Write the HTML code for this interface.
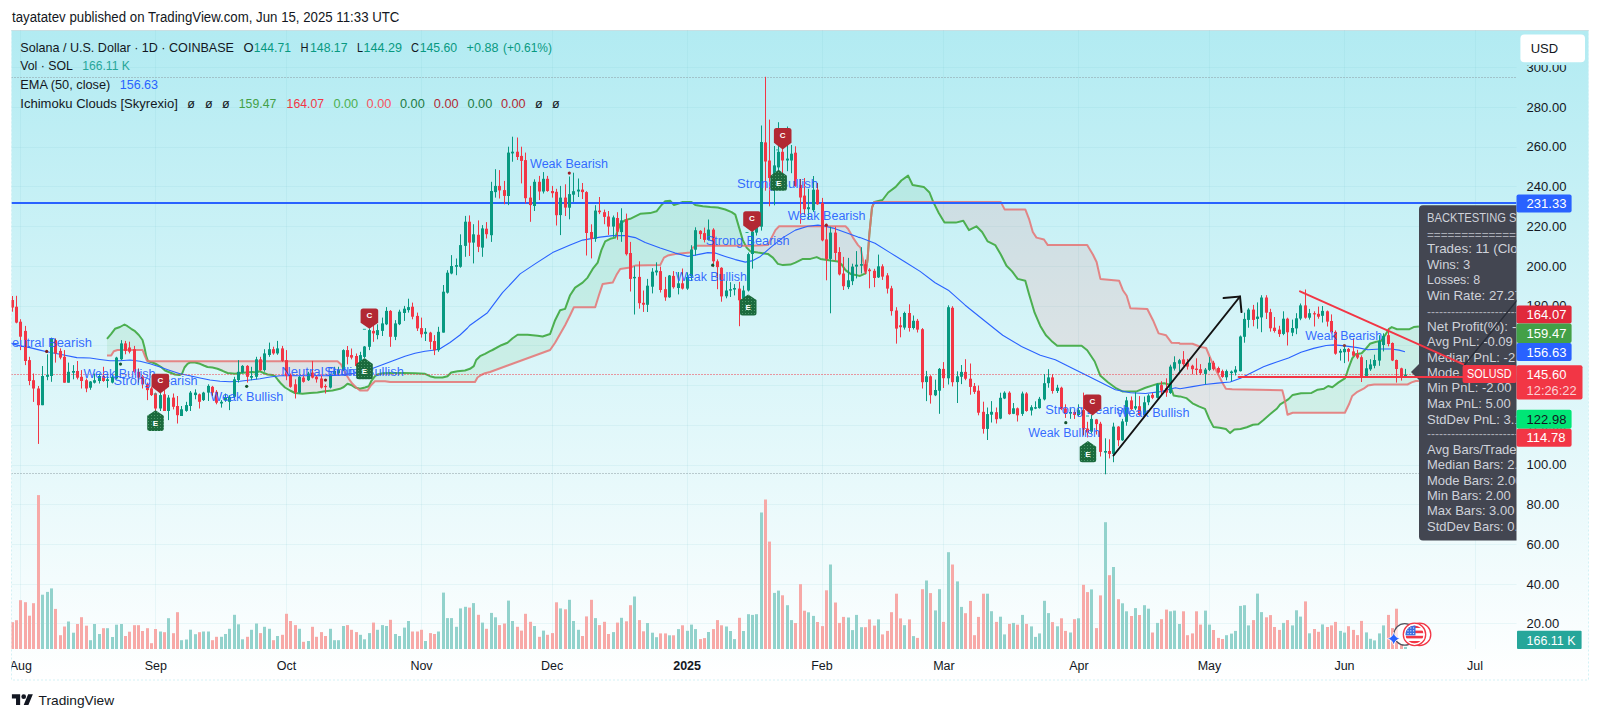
<!DOCTYPE html>
<html><head><meta charset="utf-8"><title>SOLUSD chart</title>
<style>html,body{margin:0;padding:0;background:#fff;}body{width:1600px;height:719px;overflow:hidden;font-family:"Liberation Sans",sans-serif;}svg{display:block;}</style></head>
<body>
<svg width="1600" height="719" viewBox="0 0 1600 719" font-family="Liberation Sans, sans-serif">
<defs>
<linearGradient id="bg" gradientUnits="userSpaceOnUse" x1="0" y1="30" x2="0" y2="680"><stop offset="0" stop-color="#b2ebf2"/><stop offset="1" stop-color="#ffffff"/></linearGradient>
<clipPath id="pane"><rect x="11.5" y="30" width="1505" height="619"/></clipPath>
<clipPath id="chart"><rect x="11.5" y="30" width="1577" height="650"/></clipPath>
<clipPath id="boxclip"><rect x="1410" y="200" width="106.5" height="345"/></clipPath>

<clipPath id="belowG"><polygon points="107.0,338.8 111.2,333.8 115.0,328.8 120.0,327.0 124.5,324.5 127.5,326.2 131.2,328.8 135.0,331.2 138.8,335.0 142.5,340.0 144.5,347.5 146.2,356.2 148.0,361.2 152.5,362.5 157.0,364.5 161.2,367.0 165.0,370.5 170.0,372.5 175.0,374.5 179.5,375.0 182.0,373.8 184.5,367.5 187.5,363.8 190.0,362.5 195.0,362.5 200.0,363.8 203.8,365.5 207.5,367.0 212.5,367.5 217.5,368.8 222.5,370.8 227.5,373.0 235.0,373.8 240.0,373.0 246.2,372.5 252.5,372.0 256.2,372.5 259.5,371.2 262.5,372.5 267.5,374.5 272.5,375.0 275.0,376.2 278.0,380.0 281.2,383.8 285.0,387.5 290.0,390.5 295.0,393.0 302.5,393.8 310.0,393.0 317.5,392.5 325.0,391.2 332.5,390.5 340.0,388.8 343.8,387.0 347.5,383.8 351.2,385.0 355.0,387.5 360.0,388.8 365.0,387.5 368.8,386.2 371.2,381.2 375.0,376.2 377.5,374.5 382.5,373.2 390.0,373.0 402.5,373.0 415.0,373.2 425.0,373.8 430.0,376.2 435.0,377.5 442.5,377.5 447.5,376.2 451.2,372.5 457.5,371.2 465.0,370.5 470.0,368.8 473.8,366.2 476.2,360.0 480.0,356.2 485.0,353.8 490.0,351.2 492.5,350.0 501.3,345.2 507.5,342.7 512.6,338.2 517.6,334.7 527.6,334.7 537.6,335.7 542.6,336.5 550.1,334.0 555.1,320.2 560.1,310.2 565.1,308.9 570.1,295.2 575.1,287.6 582.6,282.6 587.6,277.6 592.7,268.9 597.7,262.6 601.4,250.1 605.2,241.3 610.2,238.8 615.2,237.6 620.2,223.8 625.2,220.1 630.2,218.8 635.2,216.3 640.2,213.8 650.2,213.1 656.5,211.3 661.5,205.0 665.2,201.3 670.3,200.8 674.0,205.0 677.8,203.8 682.8,202.0 691.5,202.0 695.3,205.0 702.8,206.3 710.3,207.0 717.8,207.5 725.3,209.5 731.6,212.1 735.3,214.6 739.1,227.6 742.8,240.1 746.6,247.6 750.4,251.4 757.9,252.6 767.9,253.9 772.9,257.6 777.9,263.9 782.9,265.1 790.4,264.6 795.4,262.6 802.9,258.9 810.4,258.9 816.7,257.1 820.4,258.9 830.5,260.6 838.0,261.4 841.7,264.6 845.5,270.1 850.5,273.9 858.0,275.6 860.0,275.9 865.6,273.3 867.5,260.1 869.4,233.8 872.0,207.6 874.3,201.9 882.5,200.0 888.2,192.5 895.7,186.9 901.3,180.5 908.1,175.6 912.6,185.0 923.8,186.9 929.5,192.5 933.2,201.9 938.9,213.2 944.5,222.6 955.8,222.6 963.3,220.7 968.9,230.1 976.4,226.3 982.1,232.0 987.7,241.4 995.2,245.1 1000.8,254.5 1006.5,265.8 1012.1,271.4 1017.7,278.9 1025.3,280.8 1029.0,293.9 1034.6,312.7 1040.3,325.9 1045.9,335.3 1051.5,340.9 1057.2,345.8 1081.6,345.8 1087.2,350.3 1094.7,361.5 1100.4,375.8 1107.9,382.2 1115.4,387.8 1122.9,391.6 1136.1,391.6 1145.4,387.8 1156.7,384.1 1164.2,383.3 1169.9,384.8 1173.6,395.4 1179.2,396.5 1180.0,396.4 1186.3,398.1 1192.5,403.3 1198.8,406.4 1205.0,408.9 1209.2,418.9 1213.4,426.9 1219.6,427.7 1225.9,429.0 1230.1,433.1 1234.3,429.4 1240.5,429.0 1246.8,427.3 1253.0,424.8 1258.3,424.2 1263.5,420.0 1271.8,412.7 1277.0,408.5 1280.2,404.3 1284.3,401.8 1288.5,399.1 1292.7,394.9 1301.0,393.3 1311.5,392.9 1317.7,389.7 1324.0,388.7 1328.2,386.0 1332.3,387.2 1338.6,382.4 1344.9,378.3 1346.9,373.0 1349.0,366.8 1352.2,358.4 1355.3,354.3 1361.6,353.2 1365.7,349.0 1369.9,343.8 1376.2,341.7 1381.4,340.7 1385.6,334.4 1388.7,329.2 1391.8,327.1 1397.0,329.2 1409.5,329.2 1413.7,327.1 1418.9,326.5 1418.9,700 107.0,700"/></clipPath>
<clipPath id="belowR"><polygon points="107.0,355.5 111.2,355.5 113.8,351.2 117.5,350.0 142.5,350.0 144.5,355.0 147.0,360.8 150.0,361.2 337.5,361.2 341.2,364.5 345.0,372.5 348.8,378.8 352.5,383.8 356.2,387.5 360.0,390.5 367.5,390.5 371.2,385.0 375.0,381.2 385.0,381.2 390.0,382.0 475.0,382.0 477.5,377.5 481.2,375.0 485.0,373.2 490.0,372.0 550.1,350.0 555.1,342.7 560.1,334.0 565.1,325.2 570.1,315.2 573.9,307.2 595.2,307.2 598.9,295.2 602.7,283.9 612.7,282.6 616.4,275.1 620.2,268.9 630.2,267.6 635.2,265.6 660.2,265.1 664.0,257.6 667.7,255.6 675.3,253.9 690.3,252.6 692.8,247.6 696.5,245.8 750.4,245.8 767.9,245.1 771.6,237.6 775.4,230.1 779.1,226.3 845.5,226.3 848.0,228.8 853.0,237.6 858.0,245.1 860.5,247.6 865.6,273.3 867.5,260.1 869.4,233.8 872.0,207.6 874.3,201.9 1000.8,201.9 1004.6,209.4 1025.3,209.4 1029.0,218.8 1032.8,232.0 1036.5,237.6 1044.0,239.5 1047.8,245.1 1087.2,245.1 1092.9,254.5 1096.6,262.0 1100.4,278.9 1119.2,280.8 1122.9,290.2 1126.7,295.8 1130.4,308.2 1147.3,309.0 1153.0,320.2 1158.6,333.4 1166.1,335.3 1171.7,342.8 1179.2,343.1 1180.0,343.8 1192.5,343.8 1200.9,347.0 1206.1,348.0 1211.3,360.5 1216.5,371.0 1221.7,381.4 1225.9,388.7 1232.2,389.3 1282.3,390.2 1284.3,398.1 1287.5,414.8 1292.7,412.7 1344.9,412.7 1349.0,404.3 1352.2,396.0 1357.4,391.8 1363.6,388.7 1367.8,385.6 1374.1,384.5 1407.5,384.5 1411.6,382.4 1415.8,381.0 1418.9,381.0 1418.9,700 107.0,700"/></clipPath>
<pattern id="etex" patternUnits="userSpaceOnUse" width="3" height="3"><rect width="3" height="3" fill="#1b6a3d"/><rect x="1" y="1" width="1" height="1" fill="#4c9a6c"/></pattern>
</defs>
<rect width="1600" height="719" fill="#fff"/>
<rect x="11.5" y="30" width="1577.0" height="650" fill="url(#bg)"/>
<rect x="11.5" y="30.5" width="1577.0" height="649.5" fill="none" stroke="#d3f1f5" stroke-width="1" stroke-dasharray="2 2"/>
<line x1="11.5" y1="30.5" x2="1588.5" y2="30.5" stroke="#c9dfe3" stroke-width="1"/>
<g stroke="#6fbfc8" stroke-opacity="0.11" stroke-width="1">
<line x1="20.5" y1="30" x2="20.5" y2="649"/>
<line x1="155.5" y1="30" x2="155.5" y2="649"/>
<line x1="286.5" y1="30" x2="286.5" y2="649"/>
<line x1="421.5" y1="30" x2="421.5" y2="649"/>
<line x1="552.5" y1="30" x2="552.5" y2="649"/>
<line x1="687.5" y1="30" x2="687.5" y2="649"/>
<line x1="822.5" y1="30" x2="822.5" y2="649"/>
<line x1="943.5" y1="30" x2="943.5" y2="649"/>
<line x1="1078.5" y1="30" x2="1078.5" y2="649"/>
<line x1="1209.5" y1="30" x2="1209.5" y2="649"/>
<line x1="1344.5" y1="30" x2="1344.5" y2="649"/>
<line x1="1475.5" y1="30" x2="1475.5" y2="649"/>
<line x1="11.5" y1="623.5" x2="1516.5" y2="623.5"/>
<line x1="11.5" y1="584.5" x2="1516.5" y2="584.5"/>
<line x1="11.5" y1="544.5" x2="1516.5" y2="544.5"/>
<line x1="11.5" y1="504.5" x2="1516.5" y2="504.5"/>
<line x1="11.5" y1="465.5" x2="1516.5" y2="465.5"/>
<line x1="11.5" y1="425.5" x2="1516.5" y2="425.5"/>
<line x1="11.5" y1="385.5" x2="1516.5" y2="385.5"/>
<line x1="11.5" y1="345.5" x2="1516.5" y2="345.5"/>
<line x1="11.5" y1="306.5" x2="1516.5" y2="306.5"/>
<line x1="11.5" y1="266.5" x2="1516.5" y2="266.5"/>
<line x1="11.5" y1="226.5" x2="1516.5" y2="226.5"/>
<line x1="11.5" y1="186.5" x2="1516.5" y2="186.5"/>
<line x1="11.5" y1="147.5" x2="1516.5" y2="147.5"/>
<line x1="11.5" y1="107.5" x2="1516.5" y2="107.5"/>
<line x1="11.5" y1="67.5" x2="1516.5" y2="67.5"/>
</g>
<g clip-path="url(#pane)">
<rect x="11" y="622.2" width="3" height="26.8" fill="#f7a9a7"/>
<rect x="15" y="620.2" width="3" height="28.8" fill="#f7a9a7"/>
<rect x="19" y="600.2" width="3" height="48.8" fill="#f7a9a7"/>
<rect x="24" y="602.2" width="3" height="46.8" fill="#f7a9a7"/>
<rect x="28" y="615.7" width="3" height="33.3" fill="#f7a9a7"/>
<rect x="32" y="603.2" width="3" height="45.8" fill="#f7a9a7"/>
<rect x="37" y="495.1" width="3" height="153.9" fill="#f7a9a7"/>
<rect x="41" y="594.7" width="3" height="54.3" fill="#92d2cc"/>
<rect x="46" y="591.9" width="3" height="57.1" fill="#92d2cc"/>
<rect x="50" y="588.4" width="3" height="60.6" fill="#92d2cc"/>
<rect x="54" y="608.9" width="3" height="40.1" fill="#f7a9a7"/>
<rect x="59" y="635.2" width="3" height="13.8" fill="#f7a9a7"/>
<rect x="63" y="626.5" width="3" height="22.5" fill="#f7a9a7"/>
<rect x="67" y="621.5" width="3" height="27.5" fill="#92d2cc"/>
<rect x="72" y="632.7" width="3" height="16.3" fill="#92d2cc"/>
<rect x="76" y="624.0" width="3" height="25.0" fill="#f7a9a7"/>
<rect x="80" y="617.2" width="3" height="31.8" fill="#f7a9a7"/>
<rect x="85" y="625.7" width="3" height="23.3" fill="#f7a9a7"/>
<rect x="89" y="640.2" width="3" height="8.8" fill="#92d2cc"/>
<rect x="93" y="624.0" width="3" height="25.0" fill="#92d2cc"/>
<rect x="98" y="634.0" width="3" height="15.0" fill="#92d2cc"/>
<rect x="102" y="628.2" width="3" height="20.8" fill="#f7a9a7"/>
<rect x="106" y="628.2" width="3" height="20.8" fill="#92d2cc"/>
<rect x="111" y="637.0" width="3" height="12.0" fill="#92d2cc"/>
<rect x="115" y="624.7" width="3" height="24.3" fill="#92d2cc"/>
<rect x="120" y="624.0" width="3" height="25.0" fill="#92d2cc"/>
<rect x="124" y="636.0" width="3" height="13.0" fill="#f7a9a7"/>
<rect x="128" y="631.7" width="3" height="17.3" fill="#f7a9a7"/>
<rect x="133" y="625.2" width="3" height="23.8" fill="#f7a9a7"/>
<rect x="137" y="625.2" width="3" height="23.8" fill="#f7a9a7"/>
<rect x="141" y="631.0" width="3" height="18.0" fill="#f7a9a7"/>
<rect x="146" y="628.2" width="3" height="20.8" fill="#f7a9a7"/>
<rect x="150" y="643.2" width="3" height="5.8" fill="#f7a9a7"/>
<rect x="154" y="629.0" width="3" height="20.0" fill="#f7a9a7"/>
<rect x="159" y="631.5" width="3" height="17.5" fill="#92d2cc"/>
<rect x="163" y="632.2" width="3" height="16.8" fill="#f7a9a7"/>
<rect x="167" y="618.2" width="3" height="30.8" fill="#92d2cc"/>
<rect x="172" y="633.2" width="3" height="15.8" fill="#f7a9a7"/>
<rect x="176" y="612.2" width="3" height="36.8" fill="#f7a9a7"/>
<rect x="180" y="640.2" width="3" height="8.8" fill="#92d2cc"/>
<rect x="185" y="639.5" width="3" height="9.5" fill="#92d2cc"/>
<rect x="189" y="629.7" width="3" height="19.3" fill="#92d2cc"/>
<rect x="194" y="634.2" width="3" height="14.8" fill="#92d2cc"/>
<rect x="198" y="632.2" width="3" height="16.8" fill="#f7a9a7"/>
<rect x="202" y="631.5" width="3" height="17.5" fill="#92d2cc"/>
<rect x="207" y="631.5" width="3" height="17.5" fill="#92d2cc"/>
<rect x="211" y="640.2" width="3" height="8.8" fill="#f7a9a7"/>
<rect x="215" y="636.8" width="3" height="12.2" fill="#f7a9a7"/>
<rect x="220" y="636.8" width="3" height="12.2" fill="#92d2cc"/>
<rect x="224" y="634.0" width="3" height="15.0" fill="#92d2cc"/>
<rect x="228" y="628.8" width="3" height="20.2" fill="#92d2cc"/>
<rect x="233" y="614.8" width="3" height="34.2" fill="#92d2cc"/>
<rect x="237" y="624.3" width="3" height="24.7" fill="#92d2cc"/>
<rect x="241" y="639.3" width="3" height="9.7" fill="#92d2cc"/>
<rect x="246" y="636.8" width="3" height="12.2" fill="#f7a9a7"/>
<rect x="250" y="629.8" width="3" height="19.2" fill="#92d2cc"/>
<rect x="255" y="623.5" width="3" height="25.5" fill="#92d2cc"/>
<rect x="259" y="633.1" width="3" height="15.9" fill="#f7a9a7"/>
<rect x="263" y="626.8" width="3" height="22.2" fill="#92d2cc"/>
<rect x="268" y="628.8" width="3" height="20.2" fill="#92d2cc"/>
<rect x="272" y="640.2" width="3" height="8.8" fill="#f7a9a7"/>
<rect x="276" y="636.0" width="3" height="13.0" fill="#92d2cc"/>
<rect x="281" y="634.8" width="3" height="14.2" fill="#f7a9a7"/>
<rect x="285" y="613.8" width="3" height="35.2" fill="#f7a9a7"/>
<rect x="289" y="621.0" width="3" height="28.0" fill="#f7a9a7"/>
<rect x="294" y="625.1" width="3" height="23.9" fill="#f7a9a7"/>
<rect x="298" y="628.8" width="3" height="20.2" fill="#92d2cc"/>
<rect x="302" y="641.8" width="3" height="7.2" fill="#f7a9a7"/>
<rect x="307" y="641.0" width="3" height="8.0" fill="#92d2cc"/>
<rect x="311" y="626.8" width="3" height="22.2" fill="#f7a9a7"/>
<rect x="315" y="636.8" width="3" height="12.2" fill="#f7a9a7"/>
<rect x="320" y="632.1" width="3" height="16.9" fill="#f7a9a7"/>
<rect x="324" y="636.0" width="3" height="13.0" fill="#f7a9a7"/>
<rect x="329" y="628.8" width="3" height="20.2" fill="#92d2cc"/>
<rect x="333" y="640.2" width="3" height="8.8" fill="#92d2cc"/>
<rect x="337" y="640.2" width="3" height="8.8" fill="#92d2cc"/>
<rect x="342" y="626.0" width="3" height="23.0" fill="#92d2cc"/>
<rect x="346" y="625.1" width="3" height="23.9" fill="#f7a9a7"/>
<rect x="350" y="629.8" width="3" height="19.2" fill="#f7a9a7"/>
<rect x="355" y="632.1" width="3" height="16.9" fill="#f7a9a7"/>
<rect x="359" y="634.8" width="3" height="14.2" fill="#92d2cc"/>
<rect x="363" y="639.3" width="3" height="9.7" fill="#92d2cc"/>
<rect x="368" y="633.1" width="3" height="15.9" fill="#92d2cc"/>
<rect x="372" y="622.6" width="3" height="26.4" fill="#f7a9a7"/>
<rect x="376" y="629.8" width="3" height="19.2" fill="#92d2cc"/>
<rect x="381" y="625.1" width="3" height="23.9" fill="#92d2cc"/>
<rect x="385" y="626.0" width="3" height="23.0" fill="#92d2cc"/>
<rect x="389" y="619.8" width="3" height="29.2" fill="#f7a9a7"/>
<rect x="394" y="634.0" width="3" height="15.0" fill="#92d2cc"/>
<rect x="398" y="636.0" width="3" height="13.0" fill="#92d2cc"/>
<rect x="403" y="627.6" width="3" height="21.4" fill="#92d2cc"/>
<rect x="407" y="621.0" width="3" height="28.0" fill="#92d2cc"/>
<rect x="411" y="631.5" width="3" height="17.5" fill="#f7a9a7"/>
<rect x="416" y="631.5" width="3" height="17.5" fill="#f7a9a7"/>
<rect x="420" y="629.8" width="3" height="19.2" fill="#f7a9a7"/>
<rect x="424" y="641.0" width="3" height="8.0" fill="#92d2cc"/>
<rect x="429" y="633.1" width="3" height="15.9" fill="#f7a9a7"/>
<rect x="433" y="634.0" width="3" height="15.0" fill="#f7a9a7"/>
<rect x="437" y="631.5" width="3" height="17.5" fill="#92d2cc"/>
<rect x="442" y="592.6" width="3" height="56.4" fill="#92d2cc"/>
<rect x="446" y="618.1" width="3" height="30.9" fill="#92d2cc"/>
<rect x="450" y="618.1" width="3" height="30.9" fill="#92d2cc"/>
<rect x="455" y="626.8" width="3" height="22.2" fill="#92d2cc"/>
<rect x="459" y="608.4" width="3" height="40.6" fill="#92d2cc"/>
<rect x="464" y="606.8" width="3" height="42.2" fill="#92d2cc"/>
<rect x="468" y="607.6" width="3" height="41.4" fill="#f7a9a7"/>
<rect x="472" y="603.1" width="3" height="45.9" fill="#92d2cc"/>
<rect x="477" y="614.8" width="3" height="34.2" fill="#f7a9a7"/>
<rect x="481" y="622.6" width="3" height="26.4" fill="#92d2cc"/>
<rect x="485" y="628.8" width="3" height="20.2" fill="#f7a9a7"/>
<rect x="490" y="612.9" width="3" height="36.1" fill="#92d2cc"/>
<rect x="494" y="617.3" width="3" height="31.7" fill="#92d2cc"/>
<rect x="498" y="625.1" width="3" height="23.9" fill="#f7a9a7"/>
<rect x="503" y="623.5" width="3" height="25.5" fill="#f7a9a7"/>
<rect x="507" y="600.6" width="3" height="48.4" fill="#92d2cc"/>
<rect x="511" y="621.0" width="3" height="28.0" fill="#92d2cc"/>
<rect x="516" y="626.8" width="3" height="22.2" fill="#f7a9a7"/>
<rect x="520" y="630.6" width="3" height="18.4" fill="#f7a9a7"/>
<rect x="524" y="613.8" width="3" height="35.2" fill="#f7a9a7"/>
<rect x="529" y="621.8" width="3" height="27.2" fill="#f7a9a7"/>
<rect x="533" y="626.0" width="3" height="23.0" fill="#92d2cc"/>
<rect x="538" y="636.8" width="3" height="12.2" fill="#f7a9a7"/>
<rect x="542" y="630.6" width="3" height="18.4" fill="#92d2cc"/>
<rect x="546" y="634.8" width="3" height="14.2" fill="#f7a9a7"/>
<rect x="551" y="633.1" width="3" height="15.9" fill="#f7a9a7"/>
<rect x="555" y="602.3" width="3" height="46.7" fill="#f7a9a7"/>
<rect x="559" y="608.4" width="3" height="40.6" fill="#92d2cc"/>
<rect x="564" y="609.3" width="3" height="39.7" fill="#f7a9a7"/>
<rect x="568" y="599.8" width="3" height="49.2" fill="#92d2cc"/>
<rect x="572" y="621.0" width="3" height="28.0" fill="#92d2cc"/>
<rect x="577" y="629.8" width="3" height="19.2" fill="#92d2cc"/>
<rect x="581" y="636.0" width="3" height="13.0" fill="#f7a9a7"/>
<rect x="585" y="616.4" width="3" height="32.6" fill="#f7a9a7"/>
<rect x="590" y="599.8" width="3" height="49.2" fill="#f7a9a7"/>
<rect x="594" y="618.1" width="3" height="30.9" fill="#92d2cc"/>
<rect x="598" y="625.1" width="3" height="23.9" fill="#f7a9a7"/>
<rect x="603" y="621.8" width="3" height="27.2" fill="#f7a9a7"/>
<rect x="607" y="634.0" width="3" height="15.0" fill="#f7a9a7"/>
<rect x="612" y="632.1" width="3" height="16.9" fill="#92d2cc"/>
<rect x="616" y="622.6" width="3" height="26.4" fill="#f7a9a7"/>
<rect x="620" y="617.8" width="3" height="31.2" fill="#92d2cc"/>
<rect x="625" y="621.3" width="3" height="27.7" fill="#f7a9a7"/>
<rect x="629" y="605.2" width="3" height="43.8" fill="#f7a9a7"/>
<rect x="633" y="596.5" width="3" height="52.5" fill="#92d2cc"/>
<rect x="638" y="620.1" width="3" height="28.9" fill="#f7a9a7"/>
<rect x="642" y="631.3" width="3" height="17.7" fill="#f7a9a7"/>
<rect x="646" y="623.0" width="3" height="26.0" fill="#92d2cc"/>
<rect x="651" y="632.7" width="3" height="16.3" fill="#92d2cc"/>
<rect x="655" y="637.2" width="3" height="11.8" fill="#92d2cc"/>
<rect x="659" y="633.4" width="3" height="15.6" fill="#f7a9a7"/>
<rect x="664" y="633.4" width="3" height="15.6" fill="#f7a9a7"/>
<rect x="668" y="635.3" width="3" height="13.7" fill="#92d2cc"/>
<rect x="672" y="635.3" width="3" height="13.7" fill="#f7a9a7"/>
<rect x="677" y="629.1" width="3" height="19.9" fill="#92d2cc"/>
<rect x="681" y="625.3" width="3" height="23.7" fill="#f7a9a7"/>
<rect x="686" y="630.8" width="3" height="18.2" fill="#92d2cc"/>
<rect x="690" y="624.6" width="3" height="24.4" fill="#92d2cc"/>
<rect x="694" y="629.1" width="3" height="19.9" fill="#92d2cc"/>
<rect x="699" y="639.1" width="3" height="9.9" fill="#f7a9a7"/>
<rect x="703" y="638.1" width="3" height="10.9" fill="#f7a9a7"/>
<rect x="707" y="632.0" width="3" height="17.0" fill="#92d2cc"/>
<rect x="712" y="629.1" width="3" height="19.9" fill="#f7a9a7"/>
<rect x="716" y="620.1" width="3" height="28.9" fill="#f7a9a7"/>
<rect x="720" y="625.3" width="3" height="23.7" fill="#f7a9a7"/>
<rect x="725" y="626.5" width="3" height="22.5" fill="#92d2cc"/>
<rect x="729" y="631.0" width="3" height="18.0" fill="#92d2cc"/>
<rect x="733" y="639.1" width="3" height="9.9" fill="#92d2cc"/>
<rect x="738" y="617.8" width="3" height="31.2" fill="#f7a9a7"/>
<rect x="742" y="631.0" width="3" height="18.0" fill="#92d2cc"/>
<rect x="747" y="614.2" width="3" height="34.8" fill="#92d2cc"/>
<rect x="751" y="614.9" width="3" height="34.1" fill="#92d2cc"/>
<rect x="755" y="614.2" width="3" height="34.8" fill="#92d2cc"/>
<rect x="760" y="512.5" width="3" height="136.5" fill="#92d2cc"/>
<rect x="764" y="499.5" width="3" height="149.5" fill="#f7a9a7"/>
<rect x="768" y="541.6" width="3" height="107.4" fill="#f7a9a7"/>
<rect x="773" y="592.9" width="3" height="56.1" fill="#92d2cc"/>
<rect x="777" y="590.6" width="3" height="58.4" fill="#92d2cc"/>
<rect x="781" y="595.3" width="3" height="53.7" fill="#f7a9a7"/>
<rect x="786" y="605.2" width="3" height="43.8" fill="#92d2cc"/>
<rect x="790" y="620.1" width="3" height="28.9" fill="#92d2cc"/>
<rect x="794" y="623.0" width="3" height="26.0" fill="#f7a9a7"/>
<rect x="799" y="584.2" width="3" height="64.8" fill="#f7a9a7"/>
<rect x="803" y="610.7" width="3" height="38.3" fill="#f7a9a7"/>
<rect x="807" y="612.3" width="3" height="36.7" fill="#92d2cc"/>
<rect x="812" y="615.9" width="3" height="33.1" fill="#92d2cc"/>
<rect x="816" y="622.0" width="3" height="27.0" fill="#f7a9a7"/>
<rect x="821" y="626.1" width="3" height="22.9" fill="#f7a9a7"/>
<rect x="825" y="590.3" width="3" height="58.7" fill="#f7a9a7"/>
<rect x="829" y="564.5" width="3" height="84.5" fill="#92d2cc"/>
<rect x="834" y="602.5" width="3" height="46.5" fill="#f7a9a7"/>
<rect x="838" y="622.9" width="3" height="26.1" fill="#f7a9a7"/>
<rect x="842" y="616.9" width="3" height="32.1" fill="#f7a9a7"/>
<rect x="847" y="617.5" width="3" height="31.5" fill="#92d2cc"/>
<rect x="851" y="630.1" width="3" height="18.9" fill="#92d2cc"/>
<rect x="855" y="614.9" width="3" height="34.1" fill="#92d2cc"/>
<rect x="860" y="627.2" width="3" height="21.8" fill="#92d2cc"/>
<rect x="864" y="627.2" width="3" height="21.8" fill="#f7a9a7"/>
<rect x="868" y="619.4" width="3" height="29.6" fill="#f7a9a7"/>
<rect x="873" y="625.6" width="3" height="23.4" fill="#f7a9a7"/>
<rect x="877" y="619.4" width="3" height="29.6" fill="#92d2cc"/>
<rect x="881" y="634.4" width="3" height="14.6" fill="#f7a9a7"/>
<rect x="886" y="630.9" width="3" height="18.1" fill="#f7a9a7"/>
<rect x="890" y="612.2" width="3" height="36.8" fill="#f7a9a7"/>
<rect x="895" y="593.7" width="3" height="55.3" fill="#f7a9a7"/>
<rect x="899" y="618.4" width="3" height="30.6" fill="#f7a9a7"/>
<rect x="903" y="625.2" width="3" height="23.8" fill="#92d2cc"/>
<rect x="908" y="619.4" width="3" height="29.6" fill="#f7a9a7"/>
<rect x="912" y="636.1" width="3" height="12.9" fill="#92d2cc"/>
<rect x="916" y="637.9" width="3" height="11.1" fill="#f7a9a7"/>
<rect x="921" y="589.2" width="3" height="59.8" fill="#f7a9a7"/>
<rect x="925" y="580.5" width="3" height="68.5" fill="#92d2cc"/>
<rect x="929" y="593.1" width="3" height="55.9" fill="#f7a9a7"/>
<rect x="934" y="610.4" width="3" height="38.6" fill="#92d2cc"/>
<rect x="938" y="589.2" width="3" height="59.8" fill="#92d2cc"/>
<rect x="942" y="621.9" width="3" height="27.1" fill="#f7a9a7"/>
<rect x="947" y="552.2" width="3" height="96.8" fill="#92d2cc"/>
<rect x="951" y="564.5" width="3" height="84.5" fill="#f7a9a7"/>
<rect x="956" y="581.4" width="3" height="67.6" fill="#92d2cc"/>
<rect x="960" y="606.9" width="3" height="42.1" fill="#92d2cc"/>
<rect x="964" y="613.2" width="3" height="35.8" fill="#f7a9a7"/>
<rect x="969" y="600.9" width="3" height="48.1" fill="#f7a9a7"/>
<rect x="973" y="635.2" width="3" height="13.8" fill="#f7a9a7"/>
<rect x="977" y="616.9" width="3" height="32.1" fill="#f7a9a7"/>
<rect x="982" y="593.7" width="3" height="55.3" fill="#f7a9a7"/>
<rect x="986" y="593.7" width="3" height="55.3" fill="#92d2cc"/>
<rect x="990" y="611.2" width="3" height="37.8" fill="#92d2cc"/>
<rect x="995" y="621.9" width="3" height="27.1" fill="#f7a9a7"/>
<rect x="999" y="616.7" width="3" height="32.3" fill="#92d2cc"/>
<rect x="1003" y="634.4" width="3" height="14.6" fill="#92d2cc"/>
<rect x="1008" y="623.9" width="3" height="25.1" fill="#f7a9a7"/>
<rect x="1012" y="622.9" width="3" height="26.1" fill="#92d2cc"/>
<rect x="1016" y="624.7" width="3" height="24.3" fill="#f7a9a7"/>
<rect x="1021" y="614.9" width="3" height="34.1" fill="#92d2cc"/>
<rect x="1025" y="623.9" width="3" height="25.1" fill="#f7a9a7"/>
<rect x="1030" y="626.4" width="3" height="22.6" fill="#92d2cc"/>
<rect x="1034" y="636.9" width="3" height="12.1" fill="#92d2cc"/>
<rect x="1038" y="633.4" width="3" height="15.6" fill="#92d2cc"/>
<rect x="1043" y="600.8" width="3" height="48.2" fill="#92d2cc"/>
<rect x="1047" y="613.1" width="3" height="35.9" fill="#92d2cc"/>
<rect x="1051" y="622.1" width="3" height="26.9" fill="#f7a9a7"/>
<rect x="1056" y="626.3" width="3" height="22.7" fill="#92d2cc"/>
<rect x="1060" y="618.3" width="3" height="30.7" fill="#f7a9a7"/>
<rect x="1064" y="630.9" width="3" height="18.1" fill="#f7a9a7"/>
<rect x="1069" y="632.5" width="3" height="16.5" fill="#92d2cc"/>
<rect x="1073" y="619.2" width="3" height="29.8" fill="#f7a9a7"/>
<rect x="1077" y="618.3" width="3" height="30.7" fill="#92d2cc"/>
<rect x="1082" y="584.8" width="3" height="64.2" fill="#f7a9a7"/>
<rect x="1086" y="592.1" width="3" height="56.9" fill="#f7a9a7"/>
<rect x="1090" y="589.4" width="3" height="59.6" fill="#92d2cc"/>
<rect x="1095" y="628.1" width="3" height="20.9" fill="#f7a9a7"/>
<rect x="1099" y="595.4" width="3" height="53.6" fill="#f7a9a7"/>
<rect x="1104" y="522.2" width="3" height="126.8" fill="#92d2cc"/>
<rect x="1108" y="575.2" width="3" height="73.8" fill="#f7a9a7"/>
<rect x="1112" y="567.0" width="3" height="82.0" fill="#92d2cc"/>
<rect x="1117" y="599.2" width="3" height="49.8" fill="#f7a9a7"/>
<rect x="1121" y="603.3" width="3" height="45.7" fill="#92d2cc"/>
<rect x="1125" y="611.3" width="3" height="37.7" fill="#92d2cc"/>
<rect x="1130" y="616.0" width="3" height="33.0" fill="#f7a9a7"/>
<rect x="1134" y="608.1" width="3" height="40.9" fill="#92d2cc"/>
<rect x="1138" y="615.0" width="3" height="34.0" fill="#f7a9a7"/>
<rect x="1143" y="605.2" width="3" height="43.8" fill="#92d2cc"/>
<rect x="1147" y="608.7" width="3" height="40.3" fill="#92d2cc"/>
<rect x="1151" y="632.5" width="3" height="16.5" fill="#f7a9a7"/>
<rect x="1156" y="622.9" width="3" height="26.1" fill="#92d2cc"/>
<rect x="1160" y="619.2" width="3" height="29.8" fill="#f7a9a7"/>
<rect x="1165" y="609.6" width="3" height="39.4" fill="#f7a9a7"/>
<rect x="1169" y="611.3" width="3" height="37.7" fill="#92d2cc"/>
<rect x="1173" y="610.6" width="3" height="38.4" fill="#92d2cc"/>
<rect x="1178" y="624.0" width="3" height="25.0" fill="#92d2cc"/>
<rect x="1182" y="611.3" width="3" height="37.7" fill="#f7a9a7"/>
<rect x="1186" y="635.2" width="3" height="13.8" fill="#f7a9a7"/>
<rect x="1191" y="633.4" width="3" height="15.6" fill="#f7a9a7"/>
<rect x="1195" y="611.3" width="3" height="37.7" fill="#f7a9a7"/>
<rect x="1199" y="624.6" width="3" height="24.4" fill="#f7a9a7"/>
<rect x="1204" y="610.6" width="3" height="38.4" fill="#92d2cc"/>
<rect x="1208" y="624.6" width="3" height="24.4" fill="#92d2cc"/>
<rect x="1212" y="630.0" width="3" height="19.0" fill="#f7a9a7"/>
<rect x="1217" y="637.9" width="3" height="11.1" fill="#f7a9a7"/>
<rect x="1221" y="639.0" width="3" height="10.0" fill="#f7a9a7"/>
<rect x="1225" y="635.2" width="3" height="13.8" fill="#92d2cc"/>
<rect x="1230" y="633.6" width="3" height="15.4" fill="#92d2cc"/>
<rect x="1234" y="630.9" width="3" height="18.1" fill="#92d2cc"/>
<rect x="1239" y="605.9" width="3" height="43.1" fill="#92d2cc"/>
<rect x="1243" y="605.2" width="3" height="43.8" fill="#92d2cc"/>
<rect x="1247" y="625.4" width="3" height="23.6" fill="#92d2cc"/>
<rect x="1252" y="620.1" width="3" height="28.9" fill="#f7a9a7"/>
<rect x="1256" y="593.6" width="3" height="55.4" fill="#92d2cc"/>
<rect x="1260" y="612.1" width="3" height="36.9" fill="#92d2cc"/>
<rect x="1265" y="617.3" width="3" height="31.7" fill="#f7a9a7"/>
<rect x="1269" y="615.1" width="3" height="33.9" fill="#f7a9a7"/>
<rect x="1273" y="627.0" width="3" height="22.0" fill="#f7a9a7"/>
<rect x="1278" y="629.9" width="3" height="19.1" fill="#f7a9a7"/>
<rect x="1282" y="622.9" width="3" height="26.1" fill="#92d2cc"/>
<rect x="1286" y="620.1" width="3" height="28.9" fill="#f7a9a7"/>
<rect x="1291" y="625.4" width="3" height="23.6" fill="#92d2cc"/>
<rect x="1295" y="610.3" width="3" height="38.7" fill="#92d2cc"/>
<rect x="1299" y="616.6" width="3" height="32.4" fill="#92d2cc"/>
<rect x="1304" y="601.4" width="3" height="47.6" fill="#f7a9a7"/>
<rect x="1308" y="633.3" width="3" height="15.7" fill="#92d2cc"/>
<rect x="1313" y="629.0" width="3" height="20.0" fill="#f7a9a7"/>
<rect x="1317" y="631.8" width="3" height="17.2" fill="#f7a9a7"/>
<rect x="1321" y="624.4" width="3" height="24.6" fill="#92d2cc"/>
<rect x="1326" y="627.0" width="3" height="22.0" fill="#f7a9a7"/>
<rect x="1330" y="625.4" width="3" height="23.6" fill="#f7a9a7"/>
<rect x="1334" y="621.9" width="3" height="27.1" fill="#f7a9a7"/>
<rect x="1339" y="630.9" width="3" height="18.1" fill="#92d2cc"/>
<rect x="1343" y="632.6" width="3" height="16.4" fill="#92d2cc"/>
<rect x="1347" y="626.2" width="3" height="22.8" fill="#f7a9a7"/>
<rect x="1352" y="629.9" width="3" height="19.1" fill="#f7a9a7"/>
<rect x="1356" y="635.1" width="3" height="13.9" fill="#f7a9a7"/>
<rect x="1360" y="620.9" width="3" height="28.1" fill="#f7a9a7"/>
<rect x="1365" y="632.4" width="3" height="16.6" fill="#92d2cc"/>
<rect x="1369" y="638.8" width="3" height="10.2" fill="#92d2cc"/>
<rect x="1373" y="640.4" width="3" height="8.6" fill="#92d2cc"/>
<rect x="1378" y="633.4" width="3" height="15.6" fill="#92d2cc"/>
<rect x="1382" y="625.4" width="3" height="23.6" fill="#92d2cc"/>
<rect x="1387" y="614.9" width="3" height="34.1" fill="#f7a9a7"/>
<rect x="1391" y="628.1" width="3" height="20.9" fill="#f7a9a7"/>
<rect x="1395" y="608.7" width="3" height="40.3" fill="#f7a9a7"/>
<rect x="1400" y="644.1" width="3" height="4.9" fill="#f7a9a7"/>
<rect x="1404" y="646.9" width="3" height="2.1" fill="#92d2cc"/>
<polygon points="107.0,355.5 111.2,355.5 113.8,351.2 117.5,350.0 142.5,350.0 144.5,355.0 147.0,360.8 150.0,361.2 337.5,361.2 341.2,364.5 345.0,372.5 348.8,378.8 352.5,383.8 356.2,387.5 360.0,390.5 367.5,390.5 371.2,385.0 375.0,381.2 385.0,381.2 390.0,382.0 475.0,382.0 477.5,377.5 481.2,375.0 485.0,373.2 490.0,372.0 550.1,350.0 555.1,342.7 560.1,334.0 565.1,325.2 570.1,315.2 573.9,307.2 595.2,307.2 598.9,295.2 602.7,283.9 612.7,282.6 616.4,275.1 620.2,268.9 630.2,267.6 635.2,265.6 660.2,265.1 664.0,257.6 667.7,255.6 675.3,253.9 690.3,252.6 692.8,247.6 696.5,245.8 750.4,245.8 767.9,245.1 771.6,237.6 775.4,230.1 779.1,226.3 845.5,226.3 848.0,228.8 853.0,237.6 858.0,245.1 860.5,247.6 865.6,273.3 867.5,260.1 869.4,233.8 872.0,207.6 874.3,201.9 1000.8,201.9 1004.6,209.4 1025.3,209.4 1029.0,218.8 1032.8,232.0 1036.5,237.6 1044.0,239.5 1047.8,245.1 1087.2,245.1 1092.9,254.5 1096.6,262.0 1100.4,278.9 1119.2,280.8 1122.9,290.2 1126.7,295.8 1130.4,308.2 1147.3,309.0 1153.0,320.2 1158.6,333.4 1166.1,335.3 1171.7,342.8 1179.2,343.1 1180.0,343.8 1192.5,343.8 1200.9,347.0 1206.1,348.0 1211.3,360.5 1216.5,371.0 1221.7,381.4 1225.9,388.7 1232.2,389.3 1282.3,390.2 1284.3,398.1 1287.5,414.8 1292.7,412.7 1344.9,412.7 1349.0,404.3 1352.2,396.0 1357.4,391.8 1363.6,388.7 1367.8,385.6 1374.1,384.5 1407.5,384.5 1411.6,382.4 1415.8,381.0 1418.9,381.0 1418.9,0 107.0,0" fill="#4caf50" fill-opacity="0.10" clip-path="url(#belowG)"/>
<polygon points="107.0,338.8 111.2,333.8 115.0,328.8 120.0,327.0 124.5,324.5 127.5,326.2 131.2,328.8 135.0,331.2 138.8,335.0 142.5,340.0 144.5,347.5 146.2,356.2 148.0,361.2 152.5,362.5 157.0,364.5 161.2,367.0 165.0,370.5 170.0,372.5 175.0,374.5 179.5,375.0 182.0,373.8 184.5,367.5 187.5,363.8 190.0,362.5 195.0,362.5 200.0,363.8 203.8,365.5 207.5,367.0 212.5,367.5 217.5,368.8 222.5,370.8 227.5,373.0 235.0,373.8 240.0,373.0 246.2,372.5 252.5,372.0 256.2,372.5 259.5,371.2 262.5,372.5 267.5,374.5 272.5,375.0 275.0,376.2 278.0,380.0 281.2,383.8 285.0,387.5 290.0,390.5 295.0,393.0 302.5,393.8 310.0,393.0 317.5,392.5 325.0,391.2 332.5,390.5 340.0,388.8 343.8,387.0 347.5,383.8 351.2,385.0 355.0,387.5 360.0,388.8 365.0,387.5 368.8,386.2 371.2,381.2 375.0,376.2 377.5,374.5 382.5,373.2 390.0,373.0 402.5,373.0 415.0,373.2 425.0,373.8 430.0,376.2 435.0,377.5 442.5,377.5 447.5,376.2 451.2,372.5 457.5,371.2 465.0,370.5 470.0,368.8 473.8,366.2 476.2,360.0 480.0,356.2 485.0,353.8 490.0,351.2 492.5,350.0 501.3,345.2 507.5,342.7 512.6,338.2 517.6,334.7 527.6,334.7 537.6,335.7 542.6,336.5 550.1,334.0 555.1,320.2 560.1,310.2 565.1,308.9 570.1,295.2 575.1,287.6 582.6,282.6 587.6,277.6 592.7,268.9 597.7,262.6 601.4,250.1 605.2,241.3 610.2,238.8 615.2,237.6 620.2,223.8 625.2,220.1 630.2,218.8 635.2,216.3 640.2,213.8 650.2,213.1 656.5,211.3 661.5,205.0 665.2,201.3 670.3,200.8 674.0,205.0 677.8,203.8 682.8,202.0 691.5,202.0 695.3,205.0 702.8,206.3 710.3,207.0 717.8,207.5 725.3,209.5 731.6,212.1 735.3,214.6 739.1,227.6 742.8,240.1 746.6,247.6 750.4,251.4 757.9,252.6 767.9,253.9 772.9,257.6 777.9,263.9 782.9,265.1 790.4,264.6 795.4,262.6 802.9,258.9 810.4,258.9 816.7,257.1 820.4,258.9 830.5,260.6 838.0,261.4 841.7,264.6 845.5,270.1 850.5,273.9 858.0,275.6 860.0,275.9 865.6,273.3 867.5,260.1 869.4,233.8 872.0,207.6 874.3,201.9 882.5,200.0 888.2,192.5 895.7,186.9 901.3,180.5 908.1,175.6 912.6,185.0 923.8,186.9 929.5,192.5 933.2,201.9 938.9,213.2 944.5,222.6 955.8,222.6 963.3,220.7 968.9,230.1 976.4,226.3 982.1,232.0 987.7,241.4 995.2,245.1 1000.8,254.5 1006.5,265.8 1012.1,271.4 1017.7,278.9 1025.3,280.8 1029.0,293.9 1034.6,312.7 1040.3,325.9 1045.9,335.3 1051.5,340.9 1057.2,345.8 1081.6,345.8 1087.2,350.3 1094.7,361.5 1100.4,375.8 1107.9,382.2 1115.4,387.8 1122.9,391.6 1136.1,391.6 1145.4,387.8 1156.7,384.1 1164.2,383.3 1169.9,384.8 1173.6,395.4 1179.2,396.5 1180.0,396.4 1186.3,398.1 1192.5,403.3 1198.8,406.4 1205.0,408.9 1209.2,418.9 1213.4,426.9 1219.6,427.7 1225.9,429.0 1230.1,433.1 1234.3,429.4 1240.5,429.0 1246.8,427.3 1253.0,424.8 1258.3,424.2 1263.5,420.0 1271.8,412.7 1277.0,408.5 1280.2,404.3 1284.3,401.8 1288.5,399.1 1292.7,394.9 1301.0,393.3 1311.5,392.9 1317.7,389.7 1324.0,388.7 1328.2,386.0 1332.3,387.2 1338.6,382.4 1344.9,378.3 1346.9,373.0 1349.0,366.8 1352.2,358.4 1355.3,354.3 1361.6,353.2 1365.7,349.0 1369.9,343.8 1376.2,341.7 1381.4,340.7 1385.6,334.4 1388.7,329.2 1391.8,327.1 1397.0,329.2 1409.5,329.2 1413.7,327.1 1418.9,326.5 1418.9,0 107.0,0" fill="#ff5252" fill-opacity="0.11" clip-path="url(#belowR)"/>
<polyline points="107.0,338.8 111.2,333.8 115.0,328.8 120.0,327.0 124.5,324.5 127.5,326.2 131.2,328.8 135.0,331.2 138.8,335.0 142.5,340.0 144.5,347.5 146.2,356.2 148.0,361.2 152.5,362.5 157.0,364.5 161.2,367.0 165.0,370.5 170.0,372.5 175.0,374.5 179.5,375.0 182.0,373.8 184.5,367.5 187.5,363.8 190.0,362.5 195.0,362.5 200.0,363.8 203.8,365.5 207.5,367.0 212.5,367.5 217.5,368.8 222.5,370.8 227.5,373.0 235.0,373.8 240.0,373.0 246.2,372.5 252.5,372.0 256.2,372.5 259.5,371.2 262.5,372.5 267.5,374.5 272.5,375.0 275.0,376.2 278.0,380.0 281.2,383.8 285.0,387.5 290.0,390.5 295.0,393.0 302.5,393.8 310.0,393.0 317.5,392.5 325.0,391.2 332.5,390.5 340.0,388.8 343.8,387.0 347.5,383.8 351.2,385.0 355.0,387.5 360.0,388.8 365.0,387.5 368.8,386.2 371.2,381.2 375.0,376.2 377.5,374.5 382.5,373.2 390.0,373.0 402.5,373.0 415.0,373.2 425.0,373.8 430.0,376.2 435.0,377.5 442.5,377.5 447.5,376.2 451.2,372.5 457.5,371.2 465.0,370.5 470.0,368.8 473.8,366.2 476.2,360.0 480.0,356.2 485.0,353.8 490.0,351.2 492.5,350.0 501.3,345.2 507.5,342.7 512.6,338.2 517.6,334.7 527.6,334.7 537.6,335.7 542.6,336.5 550.1,334.0 555.1,320.2 560.1,310.2 565.1,308.9 570.1,295.2 575.1,287.6 582.6,282.6 587.6,277.6 592.7,268.9 597.7,262.6 601.4,250.1 605.2,241.3 610.2,238.8 615.2,237.6 620.2,223.8 625.2,220.1 630.2,218.8 635.2,216.3 640.2,213.8 650.2,213.1 656.5,211.3 661.5,205.0 665.2,201.3 670.3,200.8 674.0,205.0 677.8,203.8 682.8,202.0 691.5,202.0 695.3,205.0 702.8,206.3 710.3,207.0 717.8,207.5 725.3,209.5 731.6,212.1 735.3,214.6 739.1,227.6 742.8,240.1 746.6,247.6 750.4,251.4 757.9,252.6 767.9,253.9 772.9,257.6 777.9,263.9 782.9,265.1 790.4,264.6 795.4,262.6 802.9,258.9 810.4,258.9 816.7,257.1 820.4,258.9 830.5,260.6 838.0,261.4 841.7,264.6 845.5,270.1 850.5,273.9 858.0,275.6 860.0,275.9 865.6,273.3 867.5,260.1 869.4,233.8 872.0,207.6 874.3,201.9 882.5,200.0 888.2,192.5 895.7,186.9 901.3,180.5 908.1,175.6 912.6,185.0 923.8,186.9 929.5,192.5 933.2,201.9 938.9,213.2 944.5,222.6 955.8,222.6 963.3,220.7 968.9,230.1 976.4,226.3 982.1,232.0 987.7,241.4 995.2,245.1 1000.8,254.5 1006.5,265.8 1012.1,271.4 1017.7,278.9 1025.3,280.8 1029.0,293.9 1034.6,312.7 1040.3,325.9 1045.9,335.3 1051.5,340.9 1057.2,345.8 1081.6,345.8 1087.2,350.3 1094.7,361.5 1100.4,375.8 1107.9,382.2 1115.4,387.8 1122.9,391.6 1136.1,391.6 1145.4,387.8 1156.7,384.1 1164.2,383.3 1169.9,384.8 1173.6,395.4 1179.2,396.5 1180.0,396.4 1186.3,398.1 1192.5,403.3 1198.8,406.4 1205.0,408.9 1209.2,418.9 1213.4,426.9 1219.6,427.7 1225.9,429.0 1230.1,433.1 1234.3,429.4 1240.5,429.0 1246.8,427.3 1253.0,424.8 1258.3,424.2 1263.5,420.0 1271.8,412.7 1277.0,408.5 1280.2,404.3 1284.3,401.8 1288.5,399.1 1292.7,394.9 1301.0,393.3 1311.5,392.9 1317.7,389.7 1324.0,388.7 1328.2,386.0 1332.3,387.2 1338.6,382.4 1344.9,378.3 1346.9,373.0 1349.0,366.8 1352.2,358.4 1355.3,354.3 1361.6,353.2 1365.7,349.0 1369.9,343.8 1376.2,341.7 1381.4,340.7 1385.6,334.4 1388.7,329.2 1391.8,327.1 1397.0,329.2 1409.5,329.2 1413.7,327.1 1418.9,326.5" fill="none" stroke="#4caf50" stroke-width="2" stroke-linejoin="round"/>
<polyline points="107.0,355.5 111.2,355.5 113.8,351.2 117.5,350.0 142.5,350.0 144.5,355.0 147.0,360.8 150.0,361.2 337.5,361.2 341.2,364.5 345.0,372.5 348.8,378.8 352.5,383.8 356.2,387.5 360.0,390.5 367.5,390.5 371.2,385.0 375.0,381.2 385.0,381.2 390.0,382.0 475.0,382.0 477.5,377.5 481.2,375.0 485.0,373.2 490.0,372.0 550.1,350.0 555.1,342.7 560.1,334.0 565.1,325.2 570.1,315.2 573.9,307.2 595.2,307.2 598.9,295.2 602.7,283.9 612.7,282.6 616.4,275.1 620.2,268.9 630.2,267.6 635.2,265.6 660.2,265.1 664.0,257.6 667.7,255.6 675.3,253.9 690.3,252.6 692.8,247.6 696.5,245.8 750.4,245.8 767.9,245.1 771.6,237.6 775.4,230.1 779.1,226.3 845.5,226.3 848.0,228.8 853.0,237.6 858.0,245.1 860.5,247.6 865.6,273.3 867.5,260.1 869.4,233.8 872.0,207.6 874.3,201.9 1000.8,201.9 1004.6,209.4 1025.3,209.4 1029.0,218.8 1032.8,232.0 1036.5,237.6 1044.0,239.5 1047.8,245.1 1087.2,245.1 1092.9,254.5 1096.6,262.0 1100.4,278.9 1119.2,280.8 1122.9,290.2 1126.7,295.8 1130.4,308.2 1147.3,309.0 1153.0,320.2 1158.6,333.4 1166.1,335.3 1171.7,342.8 1179.2,343.1 1180.0,343.8 1192.5,343.8 1200.9,347.0 1206.1,348.0 1211.3,360.5 1216.5,371.0 1221.7,381.4 1225.9,388.7 1232.2,389.3 1282.3,390.2 1284.3,398.1 1287.5,414.8 1292.7,412.7 1344.9,412.7 1349.0,404.3 1352.2,396.0 1357.4,391.8 1363.6,388.7 1367.8,385.6 1374.1,384.5 1407.5,384.5 1411.6,382.4 1415.8,381.0 1418.9,381.0" fill="none" stroke="#e57373" stroke-opacity="0.85" stroke-width="2" stroke-linejoin="round"/>
<polyline points="10.0,343.1 20.0,345.9 30.0,347.6 40.0,350.1 46.7,351.8 60.0,354.3 76.8,357.6 90.0,358.0 100.0,359.5 110.0,360.8 120.0,360.8 130.0,360.0 140.0,361.2 150.0,363.8 160.0,367.0 170.0,370.5 180.0,373.8 190.0,375.8 200.0,378.0 210.0,380.0 220.0,381.2 230.0,381.8 240.0,381.2 250.0,380.0 260.0,378.8 270.0,377.0 280.0,375.8 290.0,375.8 300.0,375.8 315.0,375.8 330.0,375.8 340.0,375.0 350.0,373.8 360.0,372.5 365.0,371.2 375.0,367.5 385.0,363.8 395.0,360.0 405.0,356.2 415.0,353.2 425.0,351.2 435.0,350.0 440.0,348.8 450.0,342.5 460.0,335.0 467.5,328.0 470.0,325.2 487.5,312.7 502.5,292.7 520.1,273.9 535.1,263.9 552.6,252.6 570.1,245.1 582.6,240.1 600.2,237.1 612.7,235.6 625.2,235.6 635.2,237.6 645.2,242.6 660.2,248.1 675.3,253.1 687.8,256.4 695.3,255.1 707.8,252.6 715.3,253.1 725.3,256.4 735.3,259.6 745.3,262.1 752.9,260.6 760.4,256.4 770.4,247.6 782.9,237.6 795.4,230.1 807.9,226.3 817.9,225.1 825.4,226.3 833.0,228.1 845.5,232.6 858.0,237.1 860.0,237.6 875.0,243.2 890.0,252.6 905.1,262.0 920.1,271.4 935.1,282.7 948.3,290.2 965.2,305.2 983.9,320.2 1002.7,335.3 1021.5,346.5 1040.3,355.2 1055.3,359.7 1070.3,367.2 1085.4,374.7 1100.4,382.2 1115.4,389.7 1130.4,392.7 1145.4,393.5 1160.5,391.6 1175.5,387.8 1180.0,388.7 1192.5,386.6 1205.0,384.5 1217.6,383.1 1230.1,382.0 1240.5,378.3 1251.0,373.0 1263.5,366.8 1276.0,362.2 1288.5,358.0 1301.0,352.2 1313.6,348.4 1326.1,345.5 1334.4,344.9 1344.9,345.9 1357.4,347.6 1367.8,349.7 1380.3,349.0 1390.8,349.0 1399.1,350.1 1405.0,351.8" fill="none" stroke="#2962ff" stroke-width="1.1" stroke-linejoin="round"/>
<line x1="11.5" y1="203" x2="1516.5" y2="203" stroke="#2962ff" stroke-width="2"/>
<line x1="11.5" y1="77.5" x2="1516.5" y2="77.5" stroke="#8a9aa0" stroke-width="1" stroke-dasharray="1 2"/>
<line x1="11.5" y1="473.5" x2="1516.5" y2="473.5" stroke="#8a9aa0" stroke-width="1" stroke-dasharray="1 2"/>
<line x1="11.5" y1="374.5" x2="1516.5" y2="374.5" stroke="#f23645" stroke-width="1" stroke-dasharray="1 2"/>
<rect x="12" y="296.0" width="1" height="15.7" fill="#f23645"/>
<rect x="11" y="300.0" width="3" height="7.5" fill="#f23645"/>
<rect x="16" y="295.8" width="1" height="27.5" fill="#f23645"/>
<rect x="15" y="306.7" width="3" height="15.9" fill="#f23645"/>
<rect x="20" y="319.2" width="1" height="30.9" fill="#f23645"/>
<rect x="19" y="321.7" width="3" height="15.0" fill="#f23645"/>
<rect x="25" y="325.9" width="1" height="39.2" fill="#f23645"/>
<rect x="24" y="330.9" width="3" height="30.1" fill="#f23645"/>
<rect x="29" y="356.8" width="1" height="28.4" fill="#f23645"/>
<rect x="28" y="360.1" width="3" height="20.9" fill="#f23645"/>
<rect x="33" y="373.5" width="1" height="28.4" fill="#f23645"/>
<rect x="32" y="380.2" width="3" height="8.3" fill="#f23645"/>
<rect x="38" y="386.0" width="1" height="57.9" fill="#f23645"/>
<rect x="37" y="388.5" width="3" height="16.7" fill="#f23645"/>
<rect x="42" y="366.0" width="1" height="39.2" fill="#089981"/>
<rect x="41" y="376.0" width="3" height="29.2" fill="#089981"/>
<rect x="47" y="354.3" width="1" height="25.9" fill="#089981"/>
<rect x="46" y="374.8" width="3" height="2.0" fill="#089981"/>
<rect x="51" y="337.6" width="1" height="44.2" fill="#089981"/>
<rect x="50" y="338.4" width="3" height="37.6" fill="#089981"/>
<rect x="55" y="338.4" width="1" height="24.2" fill="#f23645"/>
<rect x="54" y="340.1" width="3" height="13.4" fill="#f23645"/>
<rect x="60" y="348.4" width="1" height="10.9" fill="#f23645"/>
<rect x="59" y="350.9" width="3" height="6.7" fill="#f23645"/>
<rect x="64" y="350.1" width="1" height="32.6" fill="#f23645"/>
<rect x="63" y="356.8" width="3" height="25.9" fill="#f23645"/>
<rect x="68" y="362.6" width="1" height="20.0" fill="#089981"/>
<rect x="67" y="371.8" width="3" height="10.9" fill="#089981"/>
<rect x="73" y="365.1" width="1" height="14.2" fill="#089981"/>
<rect x="72" y="371.0" width="3" height="1.7" fill="#089981"/>
<rect x="77" y="361.0" width="1" height="18.4" fill="#f23645"/>
<rect x="76" y="371.0" width="3" height="6.7" fill="#f23645"/>
<rect x="81" y="370.1" width="1" height="18.4" fill="#f23645"/>
<rect x="80" y="376.8" width="3" height="4.2" fill="#f23645"/>
<rect x="86" y="378.5" width="1" height="13.7" fill="#f23645"/>
<rect x="85" y="380.2" width="3" height="8.3" fill="#f23645"/>
<rect x="90" y="381.0" width="1" height="8.8" fill="#089981"/>
<rect x="89" y="381.5" width="3" height="6.2" fill="#089981"/>
<rect x="94" y="373.5" width="1" height="10.0" fill="#089981"/>
<rect x="93" y="380.2" width="3" height="2.5" fill="#089981"/>
<rect x="99" y="373.5" width="1" height="10.0" fill="#089981"/>
<rect x="98" y="376.0" width="3" height="5.0" fill="#089981"/>
<rect x="103" y="366.8" width="1" height="15.0" fill="#f23645"/>
<rect x="102" y="376.0" width="3" height="5.0" fill="#f23645"/>
<rect x="107" y="376.8" width="1" height="10.9" fill="#089981"/>
<rect x="106" y="379.3" width="3" height="1.7" fill="#089981"/>
<rect x="112" y="375.1" width="1" height="8.3" fill="#089981"/>
<rect x="111" y="376.8" width="3" height="5.8" fill="#089981"/>
<rect x="116" y="356.8" width="1" height="22.5" fill="#089981"/>
<rect x="115" y="357.6" width="3" height="20.9" fill="#089981"/>
<rect x="121" y="340.1" width="1" height="20.0" fill="#089981"/>
<rect x="120" y="343.4" width="3" height="15.9" fill="#089981"/>
<rect x="125" y="340.9" width="1" height="13.4" fill="#f23645"/>
<rect x="124" y="343.4" width="3" height="7.5" fill="#f23645"/>
<rect x="129" y="341.7" width="1" height="11.7" fill="#f23645"/>
<rect x="128" y="347.5" width="3" height="4.2" fill="#f23645"/>
<rect x="134" y="345.9" width="1" height="27.5" fill="#f23645"/>
<rect x="133" y="349.2" width="3" height="22.5" fill="#f23645"/>
<rect x="138" y="368.4" width="1" height="14.2" fill="#f23645"/>
<rect x="137" y="371.8" width="3" height="5.8" fill="#f23645"/>
<rect x="142" y="375.1" width="1" height="13.4" fill="#f23645"/>
<rect x="141" y="376.8" width="3" height="7.5" fill="#f23645"/>
<rect x="147" y="382.6" width="1" height="17.5" fill="#f23645"/>
<rect x="146" y="384.3" width="3" height="5.8" fill="#f23645"/>
<rect x="151" y="386.8" width="1" height="9.2" fill="#f23645"/>
<rect x="150" y="388.4" width="3" height="6.7" fill="#f23645"/>
<rect x="155" y="392.6" width="1" height="18.4" fill="#f23645"/>
<rect x="154" y="393.5" width="3" height="15.0" fill="#f23645"/>
<rect x="160" y="392.6" width="1" height="18.4" fill="#089981"/>
<rect x="159" y="395.1" width="3" height="13.4" fill="#089981"/>
<rect x="164" y="390.1" width="1" height="20.9" fill="#f23645"/>
<rect x="163" y="394.3" width="3" height="16.7" fill="#f23645"/>
<rect x="168" y="395.1" width="1" height="25.0" fill="#089981"/>
<rect x="167" y="397.6" width="3" height="13.4" fill="#089981"/>
<rect x="173" y="393.5" width="1" height="15.9" fill="#f23645"/>
<rect x="172" y="397.6" width="3" height="9.2" fill="#f23645"/>
<rect x="177" y="396.0" width="1" height="27.5" fill="#f23645"/>
<rect x="176" y="406.0" width="3" height="9.2" fill="#f23645"/>
<rect x="181" y="406.0" width="1" height="10.0" fill="#089981"/>
<rect x="180" y="409.3" width="3" height="6.7" fill="#089981"/>
<rect x="186" y="401.8" width="1" height="10.0" fill="#089981"/>
<rect x="185" y="405.1" width="3" height="5.8" fill="#089981"/>
<rect x="190" y="391.0" width="1" height="20.0" fill="#089981"/>
<rect x="189" y="392.6" width="3" height="13.4" fill="#089981"/>
<rect x="195" y="389.3" width="1" height="10.0" fill="#089981"/>
<rect x="194" y="392.6" width="3" height="2.5" fill="#089981"/>
<rect x="199" y="393.5" width="1" height="15.0" fill="#f23645"/>
<rect x="198" y="394.3" width="3" height="7.5" fill="#f23645"/>
<rect x="203" y="391.8" width="1" height="9.2" fill="#089981"/>
<rect x="202" y="392.6" width="3" height="7.5" fill="#089981"/>
<rect x="208" y="384.3" width="1" height="16.7" fill="#089981"/>
<rect x="207" y="385.9" width="3" height="6.7" fill="#089981"/>
<rect x="212" y="385.9" width="1" height="10.0" fill="#f23645"/>
<rect x="211" y="386.8" width="3" height="5.8" fill="#f23645"/>
<rect x="216" y="390.1" width="1" height="14.2" fill="#f23645"/>
<rect x="215" y="391.8" width="3" height="10.9" fill="#f23645"/>
<rect x="221" y="400.1" width="1" height="7.5" fill="#089981"/>
<rect x="220" y="401.8" width="3" height="1.7" fill="#089981"/>
<rect x="225" y="393.5" width="1" height="8.3" fill="#089981"/>
<rect x="224" y="397.6" width="3" height="2.5" fill="#089981"/>
<rect x="229" y="395.1" width="1" height="15.0" fill="#089981"/>
<rect x="228" y="396.8" width="3" height="5.0" fill="#089981"/>
<rect x="234" y="376.8" width="1" height="21.7" fill="#089981"/>
<rect x="233" y="379.3" width="3" height="17.5" fill="#089981"/>
<rect x="238" y="360.1" width="1" height="22.5" fill="#089981"/>
<rect x="237" y="371.8" width="3" height="8.3" fill="#089981"/>
<rect x="242" y="365.1" width="1" height="8.3" fill="#089981"/>
<rect x="241" y="365.9" width="3" height="6.7" fill="#089981"/>
<rect x="247" y="365.1" width="1" height="17.5" fill="#f23645"/>
<rect x="246" y="365.9" width="3" height="10.9" fill="#f23645"/>
<rect x="251" y="366.8" width="1" height="13.4" fill="#089981"/>
<rect x="250" y="376.0" width="3" height="1.7" fill="#089981"/>
<rect x="256" y="356.8" width="1" height="22.5" fill="#089981"/>
<rect x="255" y="359.3" width="3" height="17.5" fill="#089981"/>
<rect x="260" y="356.8" width="1" height="14.2" fill="#f23645"/>
<rect x="259" y="359.3" width="3" height="10.9" fill="#f23645"/>
<rect x="264" y="349.2" width="1" height="22.5" fill="#089981"/>
<rect x="263" y="353.4" width="3" height="16.7" fill="#089981"/>
<rect x="269" y="342.6" width="1" height="14.2" fill="#089981"/>
<rect x="268" y="349.2" width="3" height="5.8" fill="#089981"/>
<rect x="273" y="346.7" width="1" height="8.0" fill="#f23645"/>
<rect x="272" y="349.2" width="3" height="4.2" fill="#f23645"/>
<rect x="277" y="340.9" width="1" height="13.9" fill="#089981"/>
<rect x="276" y="348.4" width="3" height="5.0" fill="#089981"/>
<rect x="282" y="345.9" width="1" height="15.9" fill="#f23645"/>
<rect x="281" y="348.4" width="3" height="12.5" fill="#f23645"/>
<rect x="286" y="350.1" width="1" height="30.1" fill="#f23645"/>
<rect x="285" y="360.1" width="3" height="15.9" fill="#f23645"/>
<rect x="290" y="373.5" width="1" height="14.2" fill="#f23645"/>
<rect x="289" y="375.1" width="3" height="11.7" fill="#f23645"/>
<rect x="295" y="379.3" width="1" height="19.2" fill="#f23645"/>
<rect x="294" y="384.3" width="3" height="8.3" fill="#f23645"/>
<rect x="299" y="376.0" width="1" height="17.5" fill="#089981"/>
<rect x="298" y="376.8" width="3" height="15.9" fill="#089981"/>
<rect x="303" y="375.1" width="1" height="7.5" fill="#f23645"/>
<rect x="302" y="377.6" width="3" height="4.2" fill="#f23645"/>
<rect x="308" y="371.8" width="1" height="9.2" fill="#089981"/>
<rect x="307" y="373.5" width="3" height="6.7" fill="#089981"/>
<rect x="312" y="360.9" width="1" height="17.5" fill="#f23645"/>
<rect x="311" y="372.6" width="3" height="5.0" fill="#f23645"/>
<rect x="316" y="375.1" width="1" height="7.5" fill="#f23645"/>
<rect x="315" y="376.8" width="3" height="2.5" fill="#f23645"/>
<rect x="321" y="374.3" width="1" height="14.2" fill="#f23645"/>
<rect x="320" y="378.5" width="3" height="9.2" fill="#f23645"/>
<rect x="325" y="384.3" width="1" height="9.2" fill="#f23645"/>
<rect x="324" y="386.0" width="3" height="1.2" fill="#f23645"/>
<rect x="330" y="373.5" width="1" height="15.0" fill="#089981"/>
<rect x="329" y="375.1" width="3" height="12.5" fill="#089981"/>
<rect x="334" y="366.8" width="1" height="8.3" fill="#089981"/>
<rect x="333" y="371.0" width="3" height="3.3" fill="#089981"/>
<rect x="338" y="366.8" width="1" height="7.5" fill="#089981"/>
<rect x="337" y="370.1" width="3" height="3.3" fill="#089981"/>
<rect x="343" y="349.3" width="1" height="21.7" fill="#089981"/>
<rect x="342" y="350.1" width="3" height="20.0" fill="#089981"/>
<rect x="347" y="346.0" width="1" height="18.4" fill="#f23645"/>
<rect x="346" y="350.1" width="3" height="6.7" fill="#f23645"/>
<rect x="351" y="348.5" width="1" height="10.9" fill="#f23645"/>
<rect x="350" y="355.1" width="3" height="2.5" fill="#f23645"/>
<rect x="356" y="353.5" width="1" height="13.4" fill="#f23645"/>
<rect x="355" y="356.0" width="3" height="10.0" fill="#f23645"/>
<rect x="360" y="351.8" width="1" height="15.0" fill="#089981"/>
<rect x="359" y="355.1" width="3" height="10.9" fill="#089981"/>
<rect x="364" y="346.0" width="1" height="12.5" fill="#089981"/>
<rect x="363" y="346.5" width="3" height="10.4" fill="#089981"/>
<rect x="369" y="328.4" width="1" height="21.7" fill="#089981"/>
<rect x="368" y="330.1" width="3" height="16.7" fill="#089981"/>
<rect x="373" y="322.6" width="1" height="19.2" fill="#f23645"/>
<rect x="372" y="330.9" width="3" height="2.5" fill="#f23645"/>
<rect x="377" y="324.3" width="1" height="15.0" fill="#089981"/>
<rect x="376" y="330.1" width="3" height="5.0" fill="#089981"/>
<rect x="382" y="317.6" width="1" height="18.4" fill="#089981"/>
<rect x="381" y="323.4" width="3" height="7.5" fill="#089981"/>
<rect x="386" y="307.1" width="1" height="18.0" fill="#089981"/>
<rect x="385" y="310.9" width="3" height="13.4" fill="#089981"/>
<rect x="390" y="310.1" width="1" height="36.7" fill="#f23645"/>
<rect x="389" y="310.9" width="3" height="25.9" fill="#f23645"/>
<rect x="395" y="320.1" width="1" height="20.0" fill="#089981"/>
<rect x="394" y="323.4" width="3" height="13.4" fill="#089981"/>
<rect x="399" y="309.7" width="1" height="15.4" fill="#089981"/>
<rect x="398" y="311.7" width="3" height="12.5" fill="#089981"/>
<rect x="404" y="305.9" width="1" height="15.0" fill="#089981"/>
<rect x="403" y="308.7" width="3" height="4.3" fill="#089981"/>
<rect x="408" y="298.7" width="1" height="13.9" fill="#089981"/>
<rect x="407" y="307.1" width="3" height="3.0" fill="#089981"/>
<rect x="412" y="302.6" width="1" height="16.7" fill="#f23645"/>
<rect x="411" y="306.7" width="3" height="10.0" fill="#f23645"/>
<rect x="417" y="312.6" width="1" height="18.4" fill="#f23645"/>
<rect x="416" y="315.9" width="3" height="12.5" fill="#f23645"/>
<rect x="421" y="317.6" width="1" height="20.0" fill="#f23645"/>
<rect x="420" y="328.1" width="3" height="6.2" fill="#f23645"/>
<rect x="425" y="328.1" width="1" height="12.9" fill="#089981"/>
<rect x="424" y="331.8" width="3" height="2.0" fill="#089981"/>
<rect x="430" y="331.8" width="1" height="17.5" fill="#f23645"/>
<rect x="429" y="332.6" width="3" height="9.2" fill="#f23645"/>
<rect x="434" y="335.1" width="1" height="20.0" fill="#f23645"/>
<rect x="433" y="341.0" width="3" height="9.2" fill="#f23645"/>
<rect x="438" y="326.8" width="1" height="25.0" fill="#089981"/>
<rect x="437" y="331.8" width="3" height="18.4" fill="#089981"/>
<rect x="443" y="285.0" width="1" height="47.6" fill="#089981"/>
<rect x="442" y="291.7" width="3" height="40.9" fill="#089981"/>
<rect x="447" y="270.2" width="1" height="23.4" fill="#089981"/>
<rect x="446" y="272.7" width="3" height="20.0" fill="#089981"/>
<rect x="451" y="255.1" width="1" height="19.2" fill="#089981"/>
<rect x="450" y="266.0" width="3" height="7.5" fill="#089981"/>
<rect x="456" y="258.5" width="1" height="16.7" fill="#089981"/>
<rect x="455" y="265.1" width="3" height="1.7" fill="#089981"/>
<rect x="460" y="234.3" width="1" height="33.4" fill="#089981"/>
<rect x="459" y="245.1" width="3" height="21.7" fill="#089981"/>
<rect x="465" y="215.9" width="1" height="40.9" fill="#089981"/>
<rect x="464" y="221.7" width="3" height="24.2" fill="#089981"/>
<rect x="469" y="215.4" width="1" height="40.6" fill="#f23645"/>
<rect x="468" y="221.7" width="3" height="20.9" fill="#f23645"/>
<rect x="473" y="224.2" width="1" height="39.2" fill="#089981"/>
<rect x="472" y="234.3" width="3" height="8.3" fill="#089981"/>
<rect x="478" y="220.4" width="1" height="31.7" fill="#f23645"/>
<rect x="477" y="234.8" width="3" height="12.0" fill="#f23645"/>
<rect x="482" y="225.1" width="1" height="31.7" fill="#089981"/>
<rect x="481" y="228.4" width="3" height="19.2" fill="#089981"/>
<rect x="486" y="222.1" width="1" height="16.4" fill="#f23645"/>
<rect x="485" y="228.7" width="3" height="5.5" fill="#f23645"/>
<rect x="491" y="181.8" width="1" height="60.1" fill="#089981"/>
<rect x="490" y="191.0" width="3" height="44.2" fill="#089981"/>
<rect x="495" y="169.2" width="1" height="28.4" fill="#089981"/>
<rect x="494" y="185.9" width="3" height="6.2" fill="#089981"/>
<rect x="499" y="170.1" width="1" height="28.4" fill="#f23645"/>
<rect x="498" y="185.9" width="3" height="4.5" fill="#f23645"/>
<rect x="504" y="180.9" width="1" height="23.4" fill="#f23645"/>
<rect x="503" y="190.1" width="3" height="5.8" fill="#f23645"/>
<rect x="508" y="146.7" width="1" height="58.4" fill="#089981"/>
<rect x="507" y="152.6" width="3" height="43.4" fill="#089981"/>
<rect x="512" y="136.7" width="1" height="25.0" fill="#089981"/>
<rect x="511" y="151.7" width="3" height="1.7" fill="#089981"/>
<rect x="517" y="137.5" width="1" height="22.5" fill="#f23645"/>
<rect x="516" y="151.7" width="3" height="5.3" fill="#f23645"/>
<rect x="521" y="146.7" width="1" height="36.7" fill="#f23645"/>
<rect x="520" y="155.9" width="3" height="5.0" fill="#f23645"/>
<rect x="525" y="152.6" width="1" height="50.9" fill="#f23645"/>
<rect x="524" y="160.1" width="3" height="38.1" fill="#f23645"/>
<rect x="530" y="185.9" width="1" height="35.9" fill="#f23645"/>
<rect x="529" y="197.6" width="3" height="7.5" fill="#f23645"/>
<rect x="534" y="179.3" width="1" height="31.7" fill="#089981"/>
<rect x="533" y="181.8" width="3" height="24.2" fill="#089981"/>
<rect x="539" y="175.9" width="1" height="24.2" fill="#f23645"/>
<rect x="538" y="181.8" width="3" height="9.7" fill="#f23645"/>
<rect x="543" y="172.1" width="1" height="21.4" fill="#089981"/>
<rect x="542" y="178.8" width="3" height="12.7" fill="#089981"/>
<rect x="547" y="175.9" width="1" height="15.9" fill="#f23645"/>
<rect x="546" y="178.8" width="3" height="12.2" fill="#f23645"/>
<rect x="552" y="185.9" width="1" height="11.7" fill="#f23645"/>
<rect x="551" y="191.0" width="3" height="2.2" fill="#f23645"/>
<rect x="556" y="188.8" width="1" height="36.7" fill="#f23645"/>
<rect x="555" y="191.8" width="3" height="23.4" fill="#f23645"/>
<rect x="560" y="185.9" width="1" height="49.2" fill="#089981"/>
<rect x="559" y="197.6" width="3" height="17.5" fill="#089981"/>
<rect x="565" y="184.3" width="1" height="31.7" fill="#f23645"/>
<rect x="564" y="197.6" width="3" height="10.0" fill="#f23645"/>
<rect x="569" y="176.5" width="1" height="42.8" fill="#089981"/>
<rect x="568" y="194.1" width="3" height="13.6" fill="#089981"/>
<rect x="573" y="172.7" width="1" height="29.2" fill="#089981"/>
<rect x="572" y="191.2" width="3" height="3.5" fill="#089981"/>
<rect x="578" y="178.5" width="1" height="18.5" fill="#089981"/>
<rect x="577" y="189.6" width="3" height="1.9" fill="#089981"/>
<rect x="582" y="183.0" width="1" height="16.0" fill="#f23645"/>
<rect x="581" y="189.6" width="3" height="2.5" fill="#f23645"/>
<rect x="586" y="191.2" width="1" height="64.3" fill="#f23645"/>
<rect x="585" y="192.1" width="3" height="40.9" fill="#f23645"/>
<rect x="591" y="224.3" width="1" height="34.1" fill="#f23645"/>
<rect x="590" y="232.0" width="3" height="6.8" fill="#f23645"/>
<rect x="595" y="205.2" width="1" height="36.6" fill="#089981"/>
<rect x="594" y="210.6" width="3" height="28.2" fill="#089981"/>
<rect x="599" y="197.0" width="1" height="17.1" fill="#f23645"/>
<rect x="598" y="210.6" width="3" height="1.6" fill="#f23645"/>
<rect x="604" y="209.6" width="1" height="14.6" fill="#f23645"/>
<rect x="603" y="212.2" width="3" height="4.7" fill="#f23645"/>
<rect x="608" y="211.0" width="1" height="23.9" fill="#f23645"/>
<rect x="607" y="216.5" width="3" height="10.1" fill="#f23645"/>
<rect x="613" y="215.5" width="1" height="21.4" fill="#089981"/>
<rect x="612" y="217.4" width="3" height="9.2" fill="#089981"/>
<rect x="617" y="212.2" width="1" height="27.6" fill="#f23645"/>
<rect x="616" y="218.0" width="3" height="13.6" fill="#f23645"/>
<rect x="621" y="208.3" width="1" height="33.5" fill="#089981"/>
<rect x="620" y="220.4" width="3" height="11.7" fill="#089981"/>
<rect x="626" y="213.6" width="1" height="41.9" fill="#f23645"/>
<rect x="625" y="219.5" width="3" height="34.7" fill="#f23645"/>
<rect x="630" y="241.9" width="1" height="49.6" fill="#f23645"/>
<rect x="629" y="253.0" width="3" height="25.9" fill="#f23645"/>
<rect x="634" y="266.2" width="1" height="48.3" fill="#089981"/>
<rect x="633" y="276.9" width="3" height="1.4" fill="#089981"/>
<rect x="639" y="261.3" width="1" height="47.3" fill="#f23645"/>
<rect x="638" y="276.9" width="3" height="26.3" fill="#f23645"/>
<rect x="643" y="290.5" width="1" height="21.4" fill="#f23645"/>
<rect x="642" y="302.8" width="3" height="1.9" fill="#f23645"/>
<rect x="647" y="278.9" width="1" height="33.1" fill="#089981"/>
<rect x="646" y="285.7" width="3" height="19.1" fill="#089981"/>
<rect x="652" y="268.1" width="1" height="25.3" fill="#089981"/>
<rect x="651" y="271.7" width="3" height="15.0" fill="#089981"/>
<rect x="656" y="262.3" width="1" height="13.2" fill="#089981"/>
<rect x="655" y="270.5" width="3" height="1.9" fill="#089981"/>
<rect x="660" y="266.6" width="1" height="25.9" fill="#f23645"/>
<rect x="659" y="271.1" width="3" height="18.9" fill="#f23645"/>
<rect x="665" y="276.9" width="1" height="23.9" fill="#f23645"/>
<rect x="664" y="289.2" width="3" height="8.2" fill="#f23645"/>
<rect x="669" y="275.0" width="1" height="22.8" fill="#089981"/>
<rect x="668" y="275.5" width="3" height="21.8" fill="#089981"/>
<rect x="673" y="271.1" width="1" height="17.5" fill="#f23645"/>
<rect x="672" y="275.9" width="3" height="11.3" fill="#f23645"/>
<rect x="678" y="272.0" width="1" height="22.4" fill="#089981"/>
<rect x="677" y="283.3" width="3" height="4.7" fill="#089981"/>
<rect x="682" y="268.5" width="1" height="21.0" fill="#f23645"/>
<rect x="681" y="283.3" width="3" height="5.3" fill="#f23645"/>
<rect x="687" y="272.4" width="1" height="17.5" fill="#089981"/>
<rect x="686" y="276.9" width="3" height="11.7" fill="#089981"/>
<rect x="691" y="245.2" width="1" height="35.6" fill="#089981"/>
<rect x="690" y="249.6" width="3" height="26.7" fill="#089981"/>
<rect x="695" y="227.3" width="1" height="28.2" fill="#089981"/>
<rect x="694" y="230.2" width="3" height="19.5" fill="#089981"/>
<rect x="700" y="230.2" width="1" height="8.8" fill="#f23645"/>
<rect x="699" y="230.8" width="3" height="3.3" fill="#f23645"/>
<rect x="704" y="227.6" width="1" height="14.8" fill="#f23645"/>
<rect x="703" y="233.1" width="3" height="6.8" fill="#f23645"/>
<rect x="708" y="219.5" width="1" height="21.0" fill="#089981"/>
<rect x="707" y="229.6" width="3" height="10.3" fill="#089981"/>
<rect x="713" y="228.2" width="1" height="38.9" fill="#f23645"/>
<rect x="712" y="229.6" width="3" height="31.7" fill="#f23645"/>
<rect x="717" y="259.4" width="1" height="29.8" fill="#f23645"/>
<rect x="716" y="261.3" width="3" height="5.8" fill="#f23645"/>
<rect x="721" y="267.2" width="1" height="34.5" fill="#f23645"/>
<rect x="720" y="267.8" width="3" height="28.6" fill="#f23645"/>
<rect x="726" y="280.8" width="1" height="17.5" fill="#089981"/>
<rect x="725" y="290.5" width="3" height="5.8" fill="#089981"/>
<rect x="730" y="282.2" width="1" height="14.8" fill="#089981"/>
<rect x="729" y="289.2" width="3" height="1.4" fill="#089981"/>
<rect x="734" y="284.1" width="1" height="11.3" fill="#089981"/>
<rect x="733" y="288.0" width="3" height="1.6" fill="#089981"/>
<rect x="739" y="281.8" width="1" height="44.4" fill="#f23645"/>
<rect x="738" y="288.6" width="3" height="11.7" fill="#f23645"/>
<rect x="743" y="285.7" width="1" height="15.6" fill="#089981"/>
<rect x="742" y="290.5" width="3" height="9.7" fill="#089981"/>
<rect x="748" y="252.6" width="1" height="38.9" fill="#089981"/>
<rect x="747" y="254.1" width="3" height="36.4" fill="#089981"/>
<rect x="752" y="230.6" width="1" height="38.0" fill="#089981"/>
<rect x="751" y="231.6" width="3" height="22.4" fill="#089981"/>
<rect x="756" y="221.4" width="1" height="14.1" fill="#089981"/>
<rect x="755" y="223.8" width="3" height="8.8" fill="#089981"/>
<rect x="761" y="125.5" width="1" height="105.1" fill="#089981"/>
<rect x="760" y="142.0" width="3" height="84.7" fill="#089981"/>
<rect x="765" y="76.8" width="1" height="113.9" fill="#f23645"/>
<rect x="764" y="142.4" width="3" height="19.1" fill="#f23645"/>
<rect x="769" y="119.6" width="1" height="86.7" fill="#f23645"/>
<rect x="768" y="160.5" width="3" height="17.5" fill="#f23645"/>
<rect x="774" y="146.0" width="1" height="59.3" fill="#089981"/>
<rect x="773" y="165.4" width="3" height="13.6" fill="#089981"/>
<rect x="778" y="122.2" width="1" height="52.8" fill="#089981"/>
<rect x="777" y="151.8" width="3" height="15.6" fill="#089981"/>
<rect x="782" y="148.0" width="1" height="33.0" fill="#f23645"/>
<rect x="781" y="151.8" width="3" height="8.7" fill="#f23645"/>
<rect x="787" y="126.5" width="1" height="44.7" fill="#089981"/>
<rect x="786" y="158.6" width="3" height="1.9" fill="#089981"/>
<rect x="791" y="145.0" width="1" height="28.2" fill="#089981"/>
<rect x="790" y="153.7" width="3" height="6.8" fill="#089981"/>
<rect x="795" y="146.3" width="1" height="40.5" fill="#f23645"/>
<rect x="794" y="152.7" width="3" height="33.2" fill="#f23645"/>
<rect x="800" y="179.0" width="1" height="44.8" fill="#f23645"/>
<rect x="799" y="184.9" width="3" height="12.6" fill="#f23645"/>
<rect x="804" y="178.0" width="1" height="37.0" fill="#f23645"/>
<rect x="803" y="195.6" width="3" height="13.6" fill="#f23645"/>
<rect x="808" y="188.8" width="1" height="30.1" fill="#089981"/>
<rect x="807" y="207.2" width="3" height="2.0" fill="#089981"/>
<rect x="813" y="176.0" width="1" height="36.0" fill="#089981"/>
<rect x="812" y="189.7" width="3" height="20.5" fill="#089981"/>
<rect x="817" y="183.0" width="1" height="21.8" fill="#f23645"/>
<rect x="816" y="189.7" width="3" height="14.6" fill="#f23645"/>
<rect x="822" y="197.9" width="1" height="43.4" fill="#f23645"/>
<rect x="821" y="203.0" width="3" height="37.4" fill="#f23645"/>
<rect x="826" y="223.8" width="1" height="56.5" fill="#f23645"/>
<rect x="825" y="239.4" width="3" height="19.5" fill="#f23645"/>
<rect x="830" y="226.7" width="1" height="86.6" fill="#089981"/>
<rect x="829" y="232.6" width="3" height="26.3" fill="#089981"/>
<rect x="835" y="226.7" width="1" height="34.1" fill="#f23645"/>
<rect x="834" y="232.6" width="3" height="20.4" fill="#f23645"/>
<rect x="839" y="247.2" width="1" height="28.2" fill="#f23645"/>
<rect x="838" y="252.0" width="3" height="22.4" fill="#f23645"/>
<rect x="843" y="256.9" width="1" height="33.1" fill="#f23645"/>
<rect x="842" y="273.5" width="3" height="12.7" fill="#f23645"/>
<rect x="848" y="257.9" width="1" height="31.2" fill="#089981"/>
<rect x="847" y="280.3" width="3" height="6.8" fill="#089981"/>
<rect x="852" y="263.7" width="1" height="21.4" fill="#089981"/>
<rect x="851" y="266.6" width="3" height="14.6" fill="#089981"/>
<rect x="856" y="251.1" width="1" height="27.3" fill="#089981"/>
<rect x="855" y="264.7" width="3" height="1.9" fill="#089981"/>
<rect x="861" y="247.2" width="1" height="26.3" fill="#089981"/>
<rect x="860" y="264.1" width="3" height="1.6" fill="#089981"/>
<rect x="865" y="259.5" width="1" height="14.6" fill="#f23645"/>
<rect x="864" y="264.3" width="3" height="7.2" fill="#f23645"/>
<rect x="869" y="268.2" width="1" height="20.1" fill="#f23645"/>
<rect x="868" y="269.6" width="3" height="1.6" fill="#f23645"/>
<rect x="874" y="268.8" width="1" height="18.3" fill="#f23645"/>
<rect x="873" y="270.8" width="3" height="7.2" fill="#f23645"/>
<rect x="878" y="254.6" width="1" height="23.4" fill="#089981"/>
<rect x="877" y="266.3" width="3" height="11.1" fill="#089981"/>
<rect x="882" y="264.3" width="1" height="15.6" fill="#f23645"/>
<rect x="881" y="266.3" width="3" height="10.3" fill="#f23645"/>
<rect x="887" y="273.1" width="1" height="20.4" fill="#f23645"/>
<rect x="886" y="275.4" width="3" height="13.2" fill="#f23645"/>
<rect x="891" y="285.8" width="1" height="29.8" fill="#f23645"/>
<rect x="890" y="288.3" width="3" height="22.8" fill="#f23645"/>
<rect x="896" y="307.2" width="1" height="36.4" fill="#f23645"/>
<rect x="895" y="310.5" width="3" height="18.1" fill="#f23645"/>
<rect x="900" y="316.9" width="1" height="20.4" fill="#f23645"/>
<rect x="899" y="325.3" width="3" height="1.9" fill="#f23645"/>
<rect x="904" y="311.7" width="1" height="17.9" fill="#089981"/>
<rect x="903" y="313.0" width="3" height="14.6" fill="#089981"/>
<rect x="909" y="304.3" width="1" height="27.3" fill="#f23645"/>
<rect x="908" y="313.0" width="3" height="15.0" fill="#f23645"/>
<rect x="913" y="315.5" width="1" height="14.0" fill="#089981"/>
<rect x="912" y="320.8" width="3" height="7.2" fill="#089981"/>
<rect x="917" y="318.9" width="1" height="13.6" fill="#f23645"/>
<rect x="916" y="320.8" width="3" height="8.8" fill="#f23645"/>
<rect x="922" y="328.1" width="1" height="60.4" fill="#f23645"/>
<rect x="921" y="329.2" width="3" height="53.0" fill="#f23645"/>
<rect x="926" y="370.9" width="1" height="30.2" fill="#089981"/>
<rect x="925" y="376.3" width="3" height="5.8" fill="#089981"/>
<rect x="930" y="375.2" width="1" height="28.4" fill="#f23645"/>
<rect x="929" y="376.3" width="3" height="18.9" fill="#f23645"/>
<rect x="935" y="379.6" width="1" height="16.5" fill="#089981"/>
<rect x="934" y="390.0" width="3" height="5.3" fill="#089981"/>
<rect x="939" y="368.0" width="1" height="45.8" fill="#089981"/>
<rect x="938" y="368.9" width="3" height="21.8" fill="#089981"/>
<rect x="943" y="362.1" width="1" height="25.9" fill="#f23645"/>
<rect x="942" y="368.9" width="3" height="9.3" fill="#f23645"/>
<rect x="948" y="305.3" width="1" height="79.2" fill="#089981"/>
<rect x="947" y="307.2" width="3" height="71.1" fill="#089981"/>
<rect x="952" y="306.2" width="1" height="80.2" fill="#f23645"/>
<rect x="951" y="307.8" width="3" height="74.4" fill="#f23645"/>
<rect x="957" y="371.3" width="1" height="31.7" fill="#089981"/>
<rect x="956" y="376.3" width="3" height="5.8" fill="#089981"/>
<rect x="961" y="365.0" width="1" height="19.1" fill="#089981"/>
<rect x="960" y="371.9" width="3" height="4.9" fill="#089981"/>
<rect x="965" y="359.2" width="1" height="21.0" fill="#f23645"/>
<rect x="964" y="371.9" width="3" height="6.8" fill="#f23645"/>
<rect x="970" y="363.5" width="1" height="31.2" fill="#f23645"/>
<rect x="969" y="378.7" width="3" height="8.2" fill="#f23645"/>
<rect x="974" y="383.0" width="1" height="10.9" fill="#f23645"/>
<rect x="973" y="386.1" width="3" height="5.8" fill="#f23645"/>
<rect x="978" y="385.5" width="1" height="29.8" fill="#f23645"/>
<rect x="977" y="390.7" width="3" height="22.0" fill="#f23645"/>
<rect x="983" y="401.7" width="1" height="31.9" fill="#f23645"/>
<rect x="982" y="411.8" width="3" height="17.1" fill="#f23645"/>
<rect x="987" y="407.5" width="1" height="32.5" fill="#089981"/>
<rect x="986" y="414.1" width="3" height="14.8" fill="#089981"/>
<rect x="991" y="401.1" width="1" height="21.4" fill="#089981"/>
<rect x="990" y="411.8" width="3" height="2.9" fill="#089981"/>
<rect x="996" y="407.5" width="1" height="16.0" fill="#f23645"/>
<rect x="995" y="412.2" width="3" height="7.0" fill="#f23645"/>
<rect x="1000" y="392.7" width="1" height="26.5" fill="#089981"/>
<rect x="999" y="397.8" width="3" height="20.8" fill="#089981"/>
<rect x="1004" y="391.3" width="1" height="7.8" fill="#089981"/>
<rect x="1003" y="392.7" width="3" height="5.8" fill="#089981"/>
<rect x="1009" y="391.3" width="1" height="23.4" fill="#f23645"/>
<rect x="1008" y="392.7" width="3" height="21.4" fill="#f23645"/>
<rect x="1013" y="403.0" width="1" height="11.1" fill="#089981"/>
<rect x="1012" y="408.3" width="3" height="5.5" fill="#089981"/>
<rect x="1017" y="407.5" width="1" height="14.0" fill="#f23645"/>
<rect x="1016" y="408.3" width="3" height="7.0" fill="#f23645"/>
<rect x="1022" y="391.6" width="1" height="24.3" fill="#089981"/>
<rect x="1021" y="393.5" width="3" height="20.4" fill="#089981"/>
<rect x="1026" y="392.2" width="1" height="19.5" fill="#f23645"/>
<rect x="1025" y="393.5" width="3" height="17.5" fill="#f23645"/>
<rect x="1031" y="405.2" width="1" height="10.3" fill="#089981"/>
<rect x="1030" y="407.2" width="3" height="3.3" fill="#089981"/>
<rect x="1035" y="401.3" width="1" height="7.8" fill="#089981"/>
<rect x="1034" y="407.2" width="3" height="1.4" fill="#089981"/>
<rect x="1039" y="396.9" width="1" height="11.7" fill="#089981"/>
<rect x="1038" y="398.8" width="3" height="9.3" fill="#089981"/>
<rect x="1044" y="374.1" width="1" height="26.3" fill="#089981"/>
<rect x="1043" y="383.2" width="3" height="16.2" fill="#089981"/>
<rect x="1048" y="369.2" width="1" height="18.5" fill="#089981"/>
<rect x="1047" y="377.4" width="3" height="5.8" fill="#089981"/>
<rect x="1052" y="374.1" width="1" height="19.5" fill="#f23645"/>
<rect x="1051" y="377.4" width="3" height="13.6" fill="#f23645"/>
<rect x="1057" y="384.8" width="1" height="8.2" fill="#089981"/>
<rect x="1056" y="387.7" width="3" height="3.3" fill="#089981"/>
<rect x="1061" y="386.7" width="1" height="23.4" fill="#f23645"/>
<rect x="1060" y="387.7" width="3" height="21.4" fill="#f23645"/>
<rect x="1065" y="404.3" width="1" height="13.6" fill="#f23645"/>
<rect x="1064" y="408.5" width="3" height="5.5" fill="#f23645"/>
<rect x="1070" y="409.1" width="1" height="9.7" fill="#089981"/>
<rect x="1069" y="412.0" width="3" height="1.6" fill="#089981"/>
<rect x="1074" y="410.1" width="1" height="8.8" fill="#f23645"/>
<rect x="1073" y="412.0" width="3" height="2.9" fill="#f23645"/>
<rect x="1078" y="404.3" width="1" height="12.1" fill="#089981"/>
<rect x="1077" y="410.1" width="3" height="4.9" fill="#089981"/>
<rect x="1083" y="392.6" width="1" height="42.8" fill="#f23645"/>
<rect x="1082" y="410.1" width="3" height="19.5" fill="#f23645"/>
<rect x="1087" y="421.8" width="1" height="15.6" fill="#f23645"/>
<rect x="1086" y="428.6" width="3" height="3.9" fill="#f23645"/>
<rect x="1091" y="415.0" width="1" height="18.5" fill="#089981"/>
<rect x="1090" y="418.9" width="3" height="12.7" fill="#089981"/>
<rect x="1096" y="418.9" width="1" height="15.6" fill="#f23645"/>
<rect x="1095" y="419.4" width="3" height="4.7" fill="#f23645"/>
<rect x="1100" y="421.8" width="1" height="34.7" fill="#f23645"/>
<rect x="1099" y="423.7" width="3" height="28.2" fill="#f23645"/>
<rect x="1105" y="438.3" width="1" height="36.0" fill="#089981"/>
<rect x="1104" y="451.0" width="3" height="1.6" fill="#089981"/>
<rect x="1109" y="439.3" width="1" height="19.1" fill="#f23645"/>
<rect x="1108" y="451.0" width="3" height="2.9" fill="#f23645"/>
<rect x="1113" y="422.7" width="1" height="39.5" fill="#089981"/>
<rect x="1112" y="426.6" width="3" height="27.3" fill="#089981"/>
<rect x="1118" y="426.1" width="1" height="20.1" fill="#f23645"/>
<rect x="1117" y="426.6" width="3" height="13.6" fill="#f23645"/>
<rect x="1122" y="418.9" width="1" height="22.0" fill="#089981"/>
<rect x="1121" y="421.4" width="3" height="18.9" fill="#089981"/>
<rect x="1126" y="396.9" width="1" height="28.8" fill="#089981"/>
<rect x="1125" y="400.4" width="3" height="21.4" fill="#089981"/>
<rect x="1131" y="396.5" width="1" height="13.6" fill="#f23645"/>
<rect x="1130" y="400.4" width="3" height="8.8" fill="#f23645"/>
<rect x="1135" y="392.2" width="1" height="17.9" fill="#089981"/>
<rect x="1134" y="406.2" width="3" height="2.3" fill="#089981"/>
<rect x="1139" y="396.1" width="1" height="19.9" fill="#f23645"/>
<rect x="1138" y="406.2" width="3" height="8.8" fill="#f23645"/>
<rect x="1144" y="396.5" width="1" height="19.5" fill="#089981"/>
<rect x="1143" y="402.3" width="3" height="12.7" fill="#089981"/>
<rect x="1148" y="394.1" width="1" height="11.1" fill="#089981"/>
<rect x="1147" y="395.5" width="3" height="6.8" fill="#089981"/>
<rect x="1152" y="392.9" width="1" height="6.2" fill="#f23645"/>
<rect x="1151" y="394.9" width="3" height="2.9" fill="#f23645"/>
<rect x="1157" y="383.2" width="1" height="15.2" fill="#089981"/>
<rect x="1156" y="384.2" width="3" height="13.6" fill="#089981"/>
<rect x="1161" y="381.2" width="1" height="13.6" fill="#f23645"/>
<rect x="1160" y="385.1" width="3" height="5.5" fill="#f23645"/>
<rect x="1166" y="378.3" width="1" height="18.5" fill="#f23645"/>
<rect x="1165" y="388.1" width="3" height="4.5" fill="#f23645"/>
<rect x="1170" y="364.7" width="1" height="29.2" fill="#089981"/>
<rect x="1169" y="366.6" width="3" height="26.3" fill="#089981"/>
<rect x="1174" y="356.3" width="1" height="14.2" fill="#089981"/>
<rect x="1173" y="362.2" width="3" height="6.4" fill="#089981"/>
<rect x="1179" y="358.9" width="1" height="12.7" fill="#089981"/>
<rect x="1178" y="360.2" width="3" height="3.5" fill="#089981"/>
<rect x="1183" y="351.1" width="1" height="14.6" fill="#f23645"/>
<rect x="1182" y="359.4" width="3" height="4.7" fill="#f23645"/>
<rect x="1187" y="358.9" width="1" height="10.7" fill="#f23645"/>
<rect x="1186" y="362.7" width="3" height="3.9" fill="#f23645"/>
<rect x="1192" y="364.7" width="1" height="9.7" fill="#f23645"/>
<rect x="1191" y="365.7" width="3" height="3.5" fill="#f23645"/>
<rect x="1196" y="358.3" width="1" height="16.7" fill="#f23645"/>
<rect x="1195" y="368.6" width="3" height="1.4" fill="#f23645"/>
<rect x="1200" y="364.1" width="1" height="10.9" fill="#f23645"/>
<rect x="1199" y="369.2" width="3" height="3.9" fill="#f23645"/>
<rect x="1205" y="368.0" width="1" height="16.2" fill="#089981"/>
<rect x="1204" y="369.6" width="3" height="4.3" fill="#089981"/>
<rect x="1209" y="356.9" width="1" height="14.2" fill="#089981"/>
<rect x="1208" y="362.7" width="3" height="7.2" fill="#089981"/>
<rect x="1213" y="360.8" width="1" height="9.7" fill="#f23645"/>
<rect x="1212" y="362.7" width="3" height="6.4" fill="#f23645"/>
<rect x="1218" y="366.6" width="1" height="6.8" fill="#f23645"/>
<rect x="1217" y="368.0" width="3" height="4.5" fill="#f23645"/>
<rect x="1222" y="369.6" width="1" height="8.2" fill="#f23645"/>
<rect x="1221" y="371.1" width="3" height="5.8" fill="#f23645"/>
<rect x="1226" y="369.6" width="1" height="10.7" fill="#089981"/>
<rect x="1225" y="371.1" width="3" height="6.2" fill="#089981"/>
<rect x="1231" y="370.5" width="1" height="10.7" fill="#089981"/>
<rect x="1230" y="371.5" width="3" height="1.6" fill="#089981"/>
<rect x="1235" y="366.1" width="1" height="9.3" fill="#089981"/>
<rect x="1234" y="369.6" width="3" height="2.9" fill="#089981"/>
<rect x="1240" y="335.5" width="1" height="36.0" fill="#089981"/>
<rect x="1239" y="336.5" width="3" height="34.7" fill="#089981"/>
<rect x="1244" y="312.7" width="1" height="30.0" fill="#089981"/>
<rect x="1243" y="318.9" width="3" height="17.9" fill="#089981"/>
<rect x="1248" y="308.2" width="1" height="19.5" fill="#089981"/>
<rect x="1247" y="309.6" width="3" height="10.3" fill="#089981"/>
<rect x="1253" y="304.9" width="1" height="21.4" fill="#f23645"/>
<rect x="1252" y="309.6" width="3" height="10.3" fill="#f23645"/>
<rect x="1257" y="302.4" width="1" height="26.3" fill="#089981"/>
<rect x="1256" y="316.6" width="3" height="2.3" fill="#089981"/>
<rect x="1261" y="295.2" width="1" height="37.0" fill="#089981"/>
<rect x="1260" y="297.5" width="3" height="19.9" fill="#089981"/>
<rect x="1266" y="295.2" width="1" height="23.8" fill="#f23645"/>
<rect x="1265" y="297.5" width="3" height="15.2" fill="#f23645"/>
<rect x="1270" y="308.8" width="1" height="22.8" fill="#f23645"/>
<rect x="1269" y="312.1" width="3" height="16.2" fill="#f23645"/>
<rect x="1274" y="317.0" width="1" height="15.6" fill="#f23645"/>
<rect x="1273" y="327.7" width="3" height="3.3" fill="#f23645"/>
<rect x="1279" y="325.8" width="1" height="11.1" fill="#f23645"/>
<rect x="1278" y="329.6" width="3" height="4.5" fill="#f23645"/>
<rect x="1283" y="311.3" width="1" height="23.9" fill="#089981"/>
<rect x="1282" y="318.7" width="3" height="15.2" fill="#089981"/>
<rect x="1287" y="317.7" width="1" height="27.8" fill="#f23645"/>
<rect x="1286" y="318.7" width="3" height="13.6" fill="#f23645"/>
<rect x="1292" y="319.6" width="1" height="16.5" fill="#089981"/>
<rect x="1291" y="328.0" width="3" height="4.7" fill="#089981"/>
<rect x="1296" y="313.2" width="1" height="21.0" fill="#089981"/>
<rect x="1295" y="318.3" width="3" height="10.1" fill="#089981"/>
<rect x="1300" y="303.5" width="1" height="16.7" fill="#089981"/>
<rect x="1299" y="305.4" width="3" height="13.2" fill="#089981"/>
<rect x="1305" y="289.5" width="1" height="29.2" fill="#f23645"/>
<rect x="1304" y="305.4" width="3" height="12.3" fill="#f23645"/>
<rect x="1309" y="308.9" width="1" height="10.7" fill="#089981"/>
<rect x="1308" y="313.2" width="3" height="4.5" fill="#089981"/>
<rect x="1314" y="311.3" width="1" height="15.2" fill="#f23645"/>
<rect x="1313" y="313.2" width="3" height="1.2" fill="#f23645"/>
<rect x="1318" y="306.6" width="1" height="12.1" fill="#f23645"/>
<rect x="1317" y="313.8" width="3" height="2.9" fill="#f23645"/>
<rect x="1322" y="306.0" width="1" height="16.5" fill="#089981"/>
<rect x="1321" y="310.9" width="3" height="4.9" fill="#089981"/>
<rect x="1327" y="310.5" width="1" height="16.0" fill="#f23645"/>
<rect x="1326" y="311.3" width="3" height="10.3" fill="#f23645"/>
<rect x="1331" y="314.4" width="1" height="19.5" fill="#f23645"/>
<rect x="1330" y="321.0" width="3" height="11.3" fill="#f23645"/>
<rect x="1335" y="330.4" width="1" height="24.3" fill="#f23645"/>
<rect x="1334" y="331.9" width="3" height="21.8" fill="#f23645"/>
<rect x="1340" y="348.9" width="1" height="11.7" fill="#089981"/>
<rect x="1339" y="350.8" width="3" height="1.9" fill="#089981"/>
<rect x="1344" y="345.0" width="1" height="18.1" fill="#089981"/>
<rect x="1343" y="348.9" width="3" height="3.3" fill="#089981"/>
<rect x="1348" y="347.9" width="1" height="13.6" fill="#f23645"/>
<rect x="1347" y="348.9" width="3" height="2.9" fill="#f23645"/>
<rect x="1353" y="338.1" width="1" height="18.5" fill="#f23645"/>
<rect x="1352" y="351.4" width="3" height="4.3" fill="#f23645"/>
<rect x="1357" y="349.8" width="1" height="9.3" fill="#f23645"/>
<rect x="1356" y="354.1" width="3" height="3.5" fill="#f23645"/>
<rect x="1361" y="355.3" width="1" height="26.7" fill="#f23645"/>
<rect x="1360" y="357.2" width="3" height="18.9" fill="#f23645"/>
<rect x="1366" y="360.0" width="1" height="17.1" fill="#089981"/>
<rect x="1365" y="368.3" width="3" height="7.8" fill="#089981"/>
<rect x="1370" y="359.2" width="1" height="11.7" fill="#089981"/>
<rect x="1369" y="364.4" width="3" height="4.9" fill="#089981"/>
<rect x="1374" y="354.7" width="1" height="13.6" fill="#089981"/>
<rect x="1373" y="360.0" width="3" height="5.8" fill="#089981"/>
<rect x="1379" y="335.2" width="1" height="30.6" fill="#089981"/>
<rect x="1378" y="341.1" width="3" height="19.5" fill="#089981"/>
<rect x="1383" y="333.3" width="1" height="18.1" fill="#089981"/>
<rect x="1382" y="335.8" width="3" height="9.2" fill="#089981"/>
<rect x="1388" y="328.4" width="1" height="17.9" fill="#f23645"/>
<rect x="1387" y="335.2" width="3" height="8.8" fill="#f23645"/>
<rect x="1392" y="342.4" width="1" height="18.7" fill="#f23645"/>
<rect x="1391" y="343.0" width="3" height="17.5" fill="#f23645"/>
<rect x="1396" y="359.6" width="1" height="23.0" fill="#f23645"/>
<rect x="1395" y="360.0" width="3" height="9.0" fill="#f23645"/>
<rect x="1401" y="367.7" width="1" height="12.9" fill="#f23645"/>
<rect x="1400" y="368.3" width="3" height="8.8" fill="#f23645"/>
<rect x="1405" y="368.9" width="1" height="7.8" fill="#089981"/>
<rect x="1404" y="374.8" width="3" height="1.9" fill="#089981"/>
</g>
<g clip-path="url(#pane)">
<text x="2.6" y="346.5" font-size="12.5" fill="#2962ff" textLength="89.4" lengthAdjust="spacingAndGlyphs" fill-opacity="0.95">Neutral Bearish</text>
<text x="83.5" y="378.0" font-size="12.5" fill="#2962ff" textLength="72.0" lengthAdjust="spacingAndGlyphs" fill-opacity="0.95">Weak Bullish</text>
<text x="113.5" y="385.0" font-size="12.5" fill="#2962ff" textLength="84.1" lengthAdjust="spacingAndGlyphs" fill-opacity="0.95">Strong Bearish</text>
<text x="210.2" y="400.5" font-size="12.5" fill="#2962ff" textLength="73.2" lengthAdjust="spacingAndGlyphs" fill-opacity="0.95">Weak Bullish</text>
<text x="281.2" y="375.7" font-size="12.5" fill="#2962ff" textLength="84.8" lengthAdjust="spacingAndGlyphs" fill-opacity="0.95">Neutral Bullish</text>
<text x="324.3" y="375.7" font-size="12.5" fill="#2962ff" textLength="79.5" lengthAdjust="spacingAndGlyphs" fill-opacity="0.95">Strong Bullish</text>
<text x="530.0" y="168.2" font-size="12.5" fill="#2962ff" textLength="78.0" lengthAdjust="spacingAndGlyphs" fill-opacity="0.95">Weak Bearish</text>
<text x="675.5" y="280.5" font-size="12.5" fill="#2962ff" textLength="71.3" lengthAdjust="spacingAndGlyphs" fill-opacity="0.95">Weak Bullish</text>
<text x="705.7" y="245.3" font-size="12.5" fill="#2962ff" textLength="83.9" lengthAdjust="spacingAndGlyphs" fill-opacity="0.95">Strong Bearish</text>
<text x="737.0" y="187.5" font-size="12.5" fill="#2962ff" textLength="81.0" lengthAdjust="spacingAndGlyphs" fill-opacity="0.95">Strong Bullish</text>
<text x="787.7" y="219.5" font-size="12.5" fill="#2962ff" textLength="77.9" lengthAdjust="spacingAndGlyphs" fill-opacity="0.95">Weak Bearish</text>
<text x="1045.3" y="413.5" font-size="12.5" fill="#2962ff" textLength="84.7" lengthAdjust="spacingAndGlyphs" fill-opacity="0.95">Strong Bearish</text>
<text x="1028.2" y="437.0" font-size="12.5" fill="#2962ff" textLength="71.8" lengthAdjust="spacingAndGlyphs" fill-opacity="0.95">Weak Bullish</text>
<text x="1116.5" y="416.9" font-size="12.5" fill="#2962ff" textLength="73.0" lengthAdjust="spacingAndGlyphs" fill-opacity="0.95">Weak Bullish</text>
<text x="1305.3" y="340.3" font-size="12.5" fill="#2962ff" textLength="76.9" lengthAdjust="spacingAndGlyphs" fill-opacity="0.95">Weak Bearish</text>
<circle cx="46.7" cy="351.4" r="1.6" fill="#7a1c1c"/>
<circle cx="120.5" cy="364.1" r="1.6" fill="#14532d"/>
<circle cx="246.7" cy="386.3" r="1.6" fill="#14532d"/>
<circle cx="325.5" cy="380.1" r="1.6" fill="#8b1a1a"/>
<circle cx="569.3" cy="173.1" r="1.6" fill="#a01c24"/>
<circle cx="712.7" cy="265.2" r="1.6" fill="#14532d"/>
<circle cx="826.3" cy="225.2" r="1.6" fill="#a01c24"/>
<circle cx="1065.8" cy="422.7" r="1.6" fill="#14532d"/>
<circle cx="1344.4" cy="345.5" r="1.6" fill="#8b3a3a"/>
<path d="M147.2,415.8 L155.5,410.2 L163.8,415.8 V428.5 Q163.8,431.0 161.2,431.0 H149.8 Q147.2,431.0 147.2,428.5 Z" fill="url(#etex)"/>
<text x="155.5" y="425.8" font-size="8" fill="#fff" font-weight="bold" text-anchor="middle" >E</text>
<path d="M154.0,373.8 H166.6 Q169.1,373.8 169.1,376.3 V386.8 L160.3,393.5 L151.5,386.8 V376.3 Q151.5,373.8 154.0,373.8 Z" fill="#b22833"/>
<text x="160.3" y="383.2" font-size="8" fill="#fff" font-weight="bold" text-anchor="middle" >C</text>
<rect x="153.8" y="393.5" width="3" height="1" fill="#22ab94"/>
<path d="M356.2,364.1 L364.5,358.0 L372.8,364.1 V376.8 Q372.8,379.3 370.2,379.3 H358.8 Q356.2,379.3 356.2,376.8 Z" fill="url(#etex)"/>
<text x="364.5" y="374.1" font-size="8" fill="#fff" font-weight="bold" text-anchor="middle" >E</text>
<path d="M363.1,308.4 H375.7 Q378.2,308.4 378.2,310.9 V322.7 L369.4,328.8 L360.6,322.7 V310.9 Q360.6,308.4 363.1,308.4 Z" fill="#b22833"/>
<text x="369.4" y="318.4" font-size="8" fill="#fff" font-weight="bold" text-anchor="middle" >C</text>
<rect x="362.9" y="328.8" width="3" height="1" fill="#22ab94"/>
<path d="M740.0,300.1 L748.2,294.6 L756.5,300.1 V313.1 Q756.5,315.6 754.0,315.6 H742.5 Q740.0,315.6 740.0,313.1 Z" fill="url(#etex)"/>
<text x="748.2" y="310.2" font-size="8" fill="#fff" font-weight="bold" text-anchor="middle" >E</text>
<path d="M745.7,211.2 H758.3 Q760.8,211.2 760.8,213.7 V225.4 L752.0,232.0 L743.2,225.4 V213.7 Q743.2,211.2 745.7,211.2 Z" fill="#b22833"/>
<text x="752.0" y="221.2" font-size="8" fill="#fff" font-weight="bold" text-anchor="middle" >C</text>
<rect x="745.5" y="232.0" width="3" height="1" fill="#22ab94"/>
<path d="M770.4,175.7 L778.6,169.7 L786.9,175.7 V188.2 Q786.9,190.7 784.4,190.7 H772.9 Q770.4,190.7 770.4,188.2 Z" fill="url(#etex)"/>
<text x="778.6" y="185.6" font-size="8" fill="#fff" font-weight="bold" text-anchor="middle" >E</text>
<path d="M776.4,128.0 H789.0 Q791.5,128.0 791.5,130.5 V142.8 L782.7,149.4 L773.9,142.8 V130.5 Q773.9,128.0 776.4,128.0 Z" fill="#b22833"/>
<text x="782.7" y="138.3" font-size="8" fill="#fff" font-weight="bold" text-anchor="middle" >C</text>
<rect x="776.2" y="149.4" width="3" height="1" fill="#22ab94"/>
<path d="M1079.7,446.7 L1087.9,440.9 L1096.2,446.7 V459.8 Q1096.2,462.3 1093.7,462.3 H1082.2 Q1079.7,462.3 1079.7,459.8 Z" fill="url(#etex)"/>
<text x="1087.9" y="456.9" font-size="8" fill="#fff" font-weight="bold" text-anchor="middle" >E</text>
<path d="M1086.2,394.5 H1098.8 Q1101.3,394.5 1101.3,397.0 V408.5 L1092.5,415.5 L1083.7,408.5 V397.0 Q1083.7,394.5 1086.2,394.5 Z" fill="#b22833"/>
<text x="1092.5" y="404.4" font-size="8" fill="#fff" font-weight="bold" text-anchor="middle" >C</text>
<rect x="1086.0" y="415.5" width="3" height="1" fill="#22ab94"/>
</g>
<g clip-path="url(#boxclip)">
<path d="M1423,205.3 H1530 V540.5 H1423 Q1419,540.5 1419,536.5 V380 L1411,372 L1419,364 V209.3 Q1419,205.3 1423,205.3 Z" fill="#434651"/>
<text x="1427.0" y="222.4" font-size="13" fill="#cfd2da" textLength="116.4" lengthAdjust="spacingAndGlyphs" >BACKTESTING STATS</text>
<text x="1427.0" y="238.6" font-size="13" fill="#a9acb5" textLength="123.0" lengthAdjust="spacingAndGlyphs" >==================</text>
<text x="1427.0" y="253.0" font-size="13" fill="#cfd2da" textLength="116.8" lengthAdjust="spacingAndGlyphs" >Trades: 11 (Closed)</text>
<text x="1427.0" y="269.1" font-size="13" fill="#cfd2da" textLength="43.3" lengthAdjust="spacingAndGlyphs" >Wins: 3</text>
<text x="1427.0" y="284.2" font-size="13" fill="#cfd2da" textLength="53.1" lengthAdjust="spacingAndGlyphs" >Losses: 8</text>
<text x="1427.0" y="299.7" font-size="13" fill="#cfd2da" textLength="106.9" lengthAdjust="spacingAndGlyphs" >Win Rate: 27.27%</text>
<text x="1427.0" y="315.6" font-size="13" fill="#a9acb5" textLength="99.6" lengthAdjust="spacingAndGlyphs" >-------------------------</text>
<text x="1427.0" y="330.9" font-size="13" fill="#cfd2da" textLength="115.7" lengthAdjust="spacingAndGlyphs" >Net Profit(%): -1.00</text>
<text x="1427.0" y="346.2" font-size="13" fill="#cfd2da" textLength="85.8" lengthAdjust="spacingAndGlyphs" >Avg PnL: -0.09</text>
<text x="1427.0" y="361.5" font-size="13" fill="#cfd2da" textLength="106.2" lengthAdjust="spacingAndGlyphs" >Median PnL: -2.00</text>
<text x="1427.0" y="376.8" font-size="13" fill="#cfd2da" textLength="96.1" lengthAdjust="spacingAndGlyphs" >Mode PnL: -2.00</text>
<text x="1427.0" y="392.2" font-size="13" fill="#cfd2da" textLength="84.5" lengthAdjust="spacingAndGlyphs" >Min PnL: -2.00</text>
<text x="1427.0" y="407.5" font-size="13" fill="#cfd2da" textLength="83.8" lengthAdjust="spacingAndGlyphs" >Max PnL: 5.00</text>
<text x="1427.0" y="423.6" font-size="13" fill="#cfd2da" textLength="100.9" lengthAdjust="spacingAndGlyphs" >StdDev PnL: 3.11</text>
<text x="1427.0" y="438.0" font-size="13" fill="#a9acb5" textLength="99.6" lengthAdjust="spacingAndGlyphs" >-------------------------</text>
<text x="1427.0" y="454.2" font-size="13" fill="#cfd2da" textLength="122.1" lengthAdjust="spacingAndGlyphs" >Avg Bars/Trade: 2.18</text>
<text x="1427.0" y="469.2" font-size="13" fill="#cfd2da" textLength="105.5" lengthAdjust="spacingAndGlyphs" >Median Bars: 2.00</text>
<text x="1427.0" y="484.8" font-size="13" fill="#cfd2da" textLength="95.4" lengthAdjust="spacingAndGlyphs" >Mode Bars: 2.00</text>
<text x="1427.0" y="499.8" font-size="13" fill="#cfd2da" textLength="83.8" lengthAdjust="spacingAndGlyphs" >Min Bars: 2.00</text>
<text x="1427.0" y="515.4" font-size="13" fill="#cfd2da" textLength="87.4" lengthAdjust="spacingAndGlyphs" >Max Bars: 3.00</text>
<text x="1427.0" y="531.2" font-size="13" fill="#cfd2da" textLength="105.5" lengthAdjust="spacingAndGlyphs" >StdDev Bars: 0.40</text>
</g>
<g clip-path="url(#pane)" fill="none" stroke-linecap="round">
<line x1="1113.5" y1="455.5" x2="1240" y2="296.5" stroke="#131313" stroke-width="2"/>
<polyline points="1223.6,298.1 1240,296.5 1241.5,312.1" stroke="#131313" stroke-width="2" stroke-linejoin="miter"/>
<line x1="1300" y1="291.4" x2="1464" y2="364.6" stroke="#f23645" stroke-width="2"/>
<line x1="1464.5" y1="365" x2="1540" y2="272.2" stroke="#2a2e39" stroke-width="1.4"/>
<line x1="1238.6" y1="377" x2="1463" y2="377" stroke="#f23645" stroke-width="2"/>
</g>
<text x="1526.6" y="628.2" font-size="13" fill="#131722" >20.00</text>
<text x="1526.6" y="588.5" font-size="13" fill="#131722" >40.00</text>
<text x="1526.6" y="548.7" font-size="13" fill="#131722" >60.00</text>
<text x="1526.6" y="509.0" font-size="13" fill="#131722" >80.00</text>
<text x="1526.6" y="469.3" font-size="13" fill="#131722" >100.00</text>
<text x="1526.6" y="429.5" font-size="13" fill="#131722" >120.00</text>
<text x="1526.6" y="389.8" font-size="13" fill="#131722" >140.00</text>
<text x="1526.6" y="350.1" font-size="13" fill="#131722" >160.00</text>
<text x="1526.6" y="310.3" font-size="13" fill="#131722" >180.00</text>
<text x="1526.6" y="270.6" font-size="13" fill="#131722" >200.00</text>
<text x="1526.6" y="230.9" font-size="13" fill="#131722" >220.00</text>
<text x="1526.6" y="191.2" font-size="13" fill="#131722" >240.00</text>
<text x="1526.6" y="151.4" font-size="13" fill="#131722" >260.00</text>
<text x="1526.6" y="111.7" font-size="13" fill="#131722" >280.00</text>
<text x="1526.6" y="72.0" font-size="13" fill="#131722" >300.00</text>
<rect x="1516.5" y="194.4" width="55.1" height="18.1" rx="2" fill="#2962ff"/>
<text x="1526.6" y="208.1" font-size="13" fill="#fff" >231.33</text>
<rect x="1516.5" y="305.4" width="55.1" height="18.1" rx="2" fill="#e0293b"/>
<text x="1526.6" y="319.1" font-size="13" fill="#fff" >164.07</text>
<rect x="1516.5" y="323.5" width="55.1" height="19.5" rx="2" fill="#43a047"/>
<text x="1526.6" y="337.9" font-size="13" fill="#fff" >159.47</text>
<rect x="1516.5" y="343" width="55.1" height="18.0" rx="2" fill="#2962ff"/>
<text x="1526.6" y="356.7" font-size="13" fill="#fff" >156.63</text>
<rect x="1516.5" y="365.3" width="66" height="34.2" rx="2" fill="#f23645"/>
<text x="1526.6" y="378.9" font-size="13" fill="#fff" >145.60</text>
<text x="1526.6" y="394.9" font-size="13" fill="#fbd0d4" textLength="50.0" lengthAdjust="spacingAndGlyphs" >12:26:22</text>
<rect x="1516.5" y="409.8" width="55.1" height="18.9" rx="2" fill="#00e676"/>
<text x="1526.6" y="423.9" font-size="13" fill="#131722" >122.98</text>
<rect x="1516.5" y="428.7" width="55.1" height="18.1" rx="2" fill="#f23645"/>
<text x="1526.6" y="442.4" font-size="13" fill="#fff" >114.78</text>
<rect x="1517" y="630.8" width="64.6" height="18.2" rx="1" fill="#26a69a"/>
<text x="1526.6" y="644.6" font-size="13" fill="#fff" textLength="49.0" lengthAdjust="spacingAndGlyphs" >166.11 K</text>
<rect x="1462.6" y="365" width="53.9" height="18" rx="2" fill="#f23645"/>
<text x="1467.0" y="378.4" font-size="12.5" fill="#fff" textLength="44.5" lengthAdjust="spacingAndGlyphs" >SOLUSD</text>
<rect x="1517" y="31" width="71" height="34" fill="url(#bg)"/>
<rect x="1520.4" y="34.5" width="64.6" height="27.8" rx="4" fill="#fff"/>
<text x="1530.7" y="53.1" font-size="13" fill="#131722" >USD</text>
<text x="20.3" y="51.8" font-size="13" fill="#131722" textLength="213.7" lengthAdjust="spacingAndGlyphs" >Solana / U.S. Dollar · 1D · COINBASE</text>
<text x="243.4" y="51.8" font-size="13" fill="#131722" >O</text>
<text x="253.8" y="51.8" font-size="13" fill="#089981" textLength="37.1" lengthAdjust="spacingAndGlyphs" >144.71</text>
<text x="300.4" y="51.8" font-size="13" fill="#131722" textLength="8.0" lengthAdjust="spacingAndGlyphs" >H</text>
<text x="310.0" y="51.8" font-size="13" fill="#089981" textLength="37.5" lengthAdjust="spacingAndGlyphs" >148.17</text>
<text x="356.9" y="51.8" font-size="13" fill="#131722" textLength="6.0" lengthAdjust="spacingAndGlyphs" >L</text>
<text x="363.4" y="51.8" font-size="13" fill="#089981" textLength="38.5" lengthAdjust="spacingAndGlyphs" >144.29</text>
<text x="410.9" y="51.8" font-size="13" fill="#131722" textLength="8.0" lengthAdjust="spacingAndGlyphs" >C</text>
<text x="419.7" y="51.8" font-size="13" fill="#089981" textLength="37.5" lengthAdjust="spacingAndGlyphs" >145.60</text>
<text x="466.6" y="51.8" font-size="13" fill="#089981" textLength="31.8" lengthAdjust="spacingAndGlyphs" >+0.88</text>
<text x="503.1" y="51.8" font-size="13" fill="#089981" textLength="48.8" lengthAdjust="spacingAndGlyphs" >(+0.61%)</text>
<text x="20.3" y="70.4" font-size="13" fill="#131722" textLength="52.5" lengthAdjust="spacingAndGlyphs" >Vol · SOL</text>
<text x="82.2" y="70.4" font-size="13" fill="#26a69a" textLength="47.8" lengthAdjust="spacingAndGlyphs" >166.11 K</text>
<text x="20.3" y="88.8" font-size="13" fill="#131722" textLength="90.0" lengthAdjust="spacingAndGlyphs" >EMA (50, close)</text>
<text x="119.7" y="88.8" font-size="13" fill="#2962ff" textLength="38.4" lengthAdjust="spacingAndGlyphs" >156.63</text>
<text x="20.3" y="107.6" font-size="13" fill="#131722" textLength="157.5" lengthAdjust="spacingAndGlyphs" >Ichimoku Clouds [Skyrexio]</text>
<text x="187.2" y="107.6" font-size="12.5" fill="#131722" >ø</text>
<text x="205.0" y="107.6" font-size="12.5" fill="#131722" >ø</text>
<text x="221.9" y="107.6" font-size="12.5" fill="#131722" >ø</text>
<text x="535.0" y="107.6" font-size="12.5" fill="#131722" >ø</text>
<text x="551.9" y="107.6" font-size="12.5" fill="#131722" >ø</text>
<text x="238.8" y="107.6" font-size="13" fill="#43a047" textLength="37.5" lengthAdjust="spacingAndGlyphs" >159.47</text>
<text x="286.6" y="107.6" font-size="13" fill="#f23645" textLength="37.4" lengthAdjust="spacingAndGlyphs" >164.07</text>
<text x="333.4" y="107.6" font-size="13" fill="#4caf50" textLength="24.8" lengthAdjust="spacingAndGlyphs" >0.00</text>
<text x="366.6" y="107.6" font-size="13" fill="#f7525f" textLength="24.8" lengthAdjust="spacingAndGlyphs" >0.00</text>
<text x="400.0" y="107.6" font-size="13" fill="#1b7a43" textLength="24.8" lengthAdjust="spacingAndGlyphs" >0.00</text>
<text x="433.8" y="107.6" font-size="13" fill="#b22833" textLength="24.8" lengthAdjust="spacingAndGlyphs" >0.00</text>
<text x="467.5" y="107.6" font-size="13" fill="#1b7a43" textLength="24.8" lengthAdjust="spacingAndGlyphs" >0.00</text>
<text x="500.9" y="107.6" font-size="13" fill="#b22833" textLength="24.8" lengthAdjust="spacingAndGlyphs" >0.00</text>
<circle cx="1404.8" cy="634.4" r="10.8" fill="#fff" fill-opacity="0.7" stroke="#50535e" stroke-width="1.2"/>
<circle cx="1419.6" cy="634.4" r="11.2" fill="#fff" stroke="#f23645" stroke-width="1.3"/>
<circle cx="1414.5" cy="634.4" r="11.2" fill="#fff" stroke="#f23645" stroke-width="1.3"/>
<clipPath id="flag"><circle cx="1414.5" cy="634.4" r="9"/></clipPath>
<g clip-path="url(#flag)">
<rect x="1405" y="625" width="20" height="19" fill="#fff"/>
<rect x="1405" y="625.4" width="20" height="2.6" fill="#f23645"/>
<rect x="1405" y="630.6" width="20" height="2.6" fill="#f23645"/>
<rect x="1405" y="635.8" width="20" height="2.6" fill="#f23645"/>
<rect x="1405" y="641.0" width="20" height="2.6" fill="#f23645"/>
<rect x="1405" y="625" width="10.5" height="10.4" fill="#3b6fe0"/>
<rect x="1407.5" y="627.5" width="1" height="1" fill="#fff"/>
<rect x="1410.3" y="627.5" width="1" height="1" fill="#fff"/>
<rect x="1413.1" y="627.5" width="1" height="1" fill="#fff"/>
<rect x="1407.5" y="630.3" width="1" height="1" fill="#fff"/>
<rect x="1410.3" y="630.3" width="1" height="1" fill="#fff"/>
<rect x="1413.1" y="630.3" width="1" height="1" fill="#fff"/>
<rect x="1407.5" y="633.1" width="1" height="1" fill="#fff"/>
<rect x="1410.3" y="633.1" width="1" height="1" fill="#fff"/>
<rect x="1413.1" y="633.1" width="1" height="1" fill="#fff"/>
</g>
<path d="M1393.7,632.2 Q1394.9,637.4 1400.1000000000001,638.6 Q1394.9,639.8000000000001 1393.7,645.0 Q1392.5,639.8000000000001 1387.3,638.6 Q1392.5,637.4 1393.7,632.2 Z" fill="#2962ff" stroke="#fff" stroke-width="0.8"/>
<g clip-path="url(#chart)">
<text x="20.9" y="670.0" font-size="12.5" fill="#131722" text-anchor="middle" >Aug</text>
<text x="155.9" y="670.0" font-size="12.5" fill="#131722" text-anchor="middle" >Sep</text>
<text x="286.5" y="670.0" font-size="12.5" fill="#131722" text-anchor="middle" >Oct</text>
<text x="421.5" y="670.0" font-size="12.5" fill="#131722" text-anchor="middle" >Nov</text>
<text x="552.1" y="670.0" font-size="12.5" fill="#131722" text-anchor="middle" >Dec</text>
<text x="687.1" y="670.0" font-size="12.5" fill="#131722" font-weight="bold" text-anchor="middle" >2025</text>
<text x="822.0" y="670.0" font-size="12.5" fill="#131722" text-anchor="middle" >Feb</text>
<text x="943.9" y="670.0" font-size="12.5" fill="#131722" text-anchor="middle" >Mar</text>
<text x="1078.9" y="670.0" font-size="12.5" fill="#131722" text-anchor="middle" >Apr</text>
<text x="1209.5" y="670.0" font-size="12.5" fill="#131722" text-anchor="middle" >May</text>
<text x="1344.5" y="670.0" font-size="12.5" fill="#131722" text-anchor="middle" >Jun</text>
<text x="1475.1" y="670.0" font-size="12.5" fill="#131722" text-anchor="middle" >Jul</text>
</g>
<text x="12.0" y="21.8" font-size="14" fill="#131722" textLength="387.4" lengthAdjust="spacingAndGlyphs" >tayatatev published on TradingView.com, Jun 15, 2025 11:33 UTC</text>
<g transform="translate(11.9,692.0) scale(0.59)" fill="#131722"><path d="M14 22H7V11H0V4h14v18zM28 22h-8l7.5-18h8L28 22z"/><circle cx="20" cy="8" r="4"/></g>
<text x="38.6" y="704.5" font-size="13.5" fill="#131722" font-weight="500" textLength="75.5" lengthAdjust="spacingAndGlyphs" >TradingView</text>
</svg>
</body></html>
